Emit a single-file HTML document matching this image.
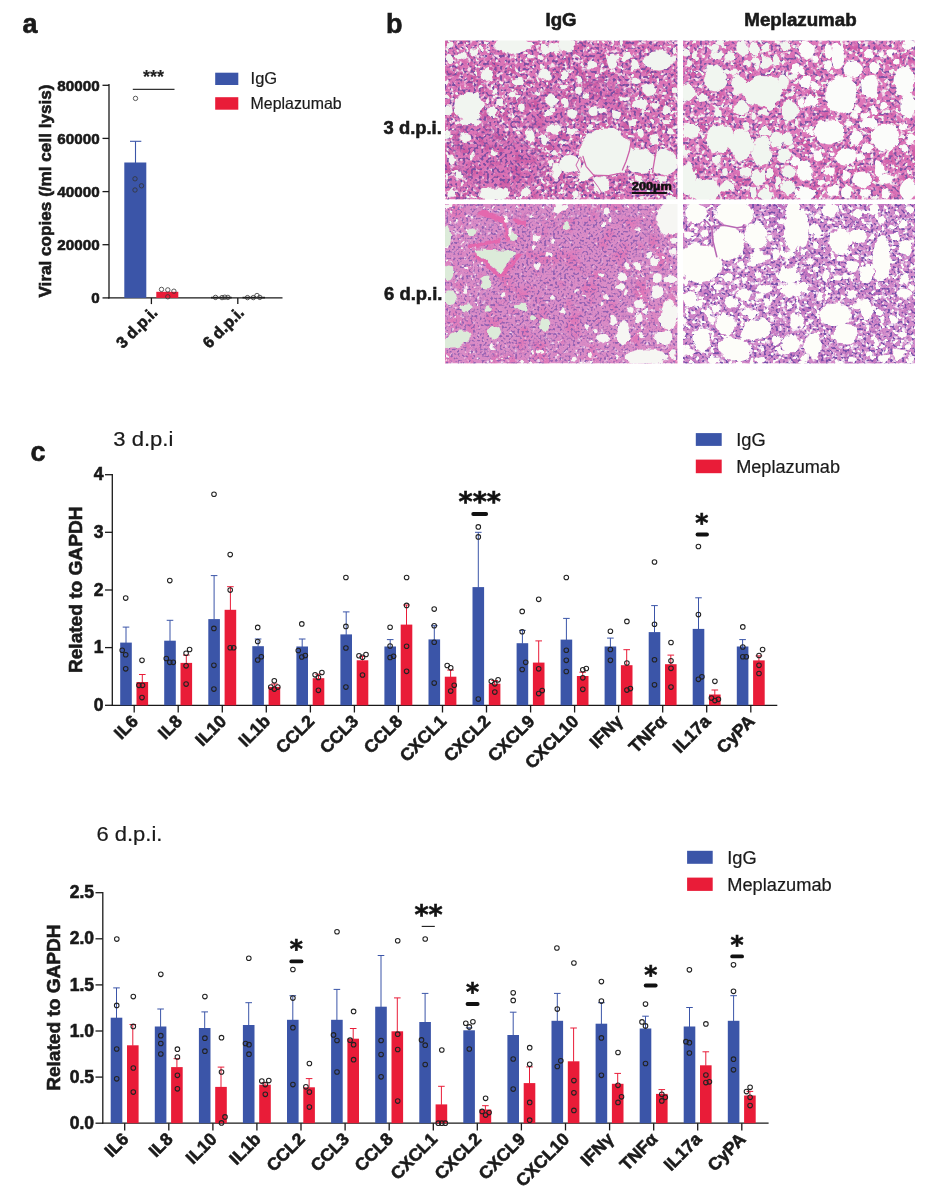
<!DOCTYPE html>
<html><head><meta charset="utf-8"><title>Figure</title>
<style>html,body{margin:0;padding:0;background:#fff}svg{display:block}</style>
</head><body>
<svg width="926" height="1189" viewBox="0 0 926 1189" font-family="'Liberation Sans', sans-serif" fill="#1a1a1a">
<rect width="926" height="1189" fill="#fff"/>
<text x="22.5" y="32.5" font-size="27" font-weight="bold" stroke="#1a1a1a" stroke-width="0.6">a</text>
<text x="386.0" y="32.8" font-size="27" font-weight="bold" stroke="#1a1a1a" stroke-width="0.6">b</text>
<text x="30.6" y="461.0" font-size="27" font-weight="bold" stroke="#1a1a1a" stroke-width="0.6">c</text>
<line x1="109.0" y1="84.0" x2="109.0" y2="298.5" stroke="#1a1a1a" stroke-width="1.3"/>
<line x1="108.4" y1="297.9" x2="282.5" y2="297.9" stroke="#1a1a1a" stroke-width="1.3"/>
<line x1="102.5" y1="297.9" x2="109.0" y2="297.9" stroke="#1a1a1a" stroke-width="1.3"/>
<text x="99.6" y="303.1" font-size="15.2" font-weight="bold" stroke="#1a1a1a" stroke-width="0.6" text-anchor="end">0</text>
<line x1="102.5" y1="244.7" x2="109.0" y2="244.7" stroke="#1a1a1a" stroke-width="1.3"/>
<text x="99.6" y="249.9" font-size="15.2" font-weight="bold" stroke="#1a1a1a" stroke-width="0.6" text-anchor="end">20000</text>
<line x1="102.5" y1="191.6" x2="109.0" y2="191.6" stroke="#1a1a1a" stroke-width="1.3"/>
<text x="99.6" y="196.8" font-size="15.2" font-weight="bold" stroke="#1a1a1a" stroke-width="0.6" text-anchor="end">40000</text>
<line x1="102.5" y1="138.4" x2="109.0" y2="138.4" stroke="#1a1a1a" stroke-width="1.3"/>
<text x="99.6" y="143.6" font-size="15.2" font-weight="bold" stroke="#1a1a1a" stroke-width="0.6" text-anchor="end">60000</text>
<line x1="102.5" y1="85.3" x2="109.0" y2="85.3" stroke="#1a1a1a" stroke-width="1.3"/>
<text x="99.6" y="90.5" font-size="15.2" font-weight="bold" stroke="#1a1a1a" stroke-width="0.6" text-anchor="end">80000</text>
<text x="51.0" y="191.0" font-size="17" font-weight="bold" stroke="#1a1a1a" stroke-width="0.6" text-anchor="middle" transform="rotate(-90 51.0 191.0)" textLength="213.0" lengthAdjust="spacingAndGlyphs">Viral copies (/ml cell lysis)</text>
<line x1="151.4" y1="297.9" x2="151.4" y2="304.1" stroke="#1a1a1a" stroke-width="1.3"/>
<line x1="237.8" y1="297.9" x2="237.8" y2="304.1" stroke="#1a1a1a" stroke-width="1.3"/>
<rect x="124.3" y="162.5" width="22.0" height="135.4" fill="#3b55a8"/>
<line x1="135.5" y1="141.3" x2="135.5" y2="163.0" stroke="#3b55a8" stroke-width="1.1"/>
<line x1="130.0" y1="141.3" x2="141.3" y2="141.3" stroke="#3b55a8" stroke-width="1.1"/>
<rect x="156.3" y="291.8" width="22.0" height="6.1" fill="#e91c38"/>
<line x1="211.0" y1="297.6" x2="231.7" y2="297.6" stroke="#1a1a1a" stroke-width="1.6"/>
<line x1="242.5" y1="297.6" x2="265.0" y2="297.6" stroke="#1a1a1a" stroke-width="1.6"/>
<g fill="none" stroke="#333" stroke-width="0.8">
<circle cx="135.5" cy="98.4" r="2.2"/>
<circle cx="135.0" cy="178.8" r="2.2"/>
<circle cx="141.5" cy="185.8" r="2.2"/>
<circle cx="135.0" cy="190.0" r="2.2"/>
<circle cx="161.5" cy="289.4" r="2.2"/>
<circle cx="167.8" cy="289.9" r="2.2"/>
<circle cx="173.9" cy="291.2" r="2.2"/>
<circle cx="167.8" cy="296.8" r="2.2"/>
<circle cx="215.5" cy="297.4" r="2.2"/>
<circle cx="222.0" cy="297.6" r="2.2"/>
<circle cx="224.8" cy="297.2" r="2.2"/>
<circle cx="227.9" cy="297.4" r="2.2"/>
<circle cx="247.5" cy="297.6" r="2.2"/>
<circle cx="253.3" cy="297.6" r="2.2"/>
<circle cx="257.0" cy="295.5" r="2.2"/>
<circle cx="259.8" cy="297.4" r="2.2"/>
</g>
<line x1="132.8" y1="89.4" x2="174.5" y2="89.4" stroke="#333" stroke-width="1.2"/>
<text x="153.4" y="82.9" font-size="18" font-weight="bold" stroke="#222" stroke-width="0.1" text-anchor="middle" fill="#222">***</text>
<text x="158.5" y="313.5" font-size="16" font-weight="bold" stroke="#1a1a1a" stroke-width="0.6" text-anchor="end" transform="rotate(-45 158.5 313.5)">3 d.p.i.</text>
<text x="245.0" y="313.5" font-size="16" font-weight="bold" stroke="#1a1a1a" stroke-width="0.6" text-anchor="end" transform="rotate(-45 245.0 313.5)">6 d.p.i.</text>
<rect x="215.2" y="72.7" width="23.1" height="12.3" fill="#3b55a8"/>
<rect x="215.2" y="97.2" width="23.1" height="12.5" fill="#e91c38"/>
<text x="250.6" y="84.2" font-size="16.5" stroke="#1a1a1a" stroke-width="0.2">IgG</text>
<text x="250.6" y="108.8" font-size="16.5" textLength="91.0" lengthAdjust="spacingAndGlyphs" stroke="#1a1a1a" stroke-width="0.2">Meplazumab</text>
<text x="545.6" y="25.7" font-size="18.5" font-weight="bold" stroke="#1a1a1a" stroke-width="0.6" textLength="31.0" lengthAdjust="spacingAndGlyphs">IgG</text>
<text x="744.3" y="25.7" font-size="18.5" font-weight="bold" stroke="#1a1a1a" stroke-width="0.6" textLength="112.3" lengthAdjust="spacingAndGlyphs">Meplazumab</text>
<text x="383.6" y="133.7" font-size="19" font-weight="bold" stroke="#1a1a1a" stroke-width="0.6" textLength="58.2" lengthAdjust="spacingAndGlyphs">3 d.p.i.</text>
<text x="384.1" y="299.7" font-size="19" font-weight="bold" stroke="#1a1a1a" stroke-width="0.6" textLength="58.3" lengthAdjust="spacingAndGlyphs">6 d.p.i.</text>
<defs>
<filter id="tis1" x="0" y="0" width="1" height="1" color-interpolation-filters="sRGB">
<feTurbulence type="fractalNoise" baseFrequency="0.09" numOctaves="2" seed="43" result="n3"/>
<feColorMatrix in="n3" type="matrix" values="0 0 0 0 0.800  0 0 0 0 0.353  0 0 0 0 0.635  4 0 0 0 -1.92" result="var"/>
<feTurbulence type="fractalNoise" baseFrequency="0.22" numOctaves="2" seed="63" result="n4"/>
<feColorMatrix in="n4" type="matrix" values="0 0 0 0 0.957  0 0 0 0 0.871  0 0 0 0 0.925  0 0 5 0 -2.70" result="gap"/>
<feTurbulence type="fractalNoise" baseFrequency="0.38" numOctaves="1" seed="23" result="n2"/>
<feColorMatrix in="n2" type="matrix" values="0 0 0 0 0.486  0 0 0 0 0.306  0 0 0 0 0.635  0 7 0 0 -3.64" result="nuc"/>
<feTurbulence type="fractalNoise" baseFrequency="0.2" numOctaves="2" seed="3" result="n1"/>
<feColorMatrix in="n1" type="matrix" values="0 0 0 0 0.945  0 0 0 0 0.961  0 0 0 0 0.941  12 0 0 0 -7.68" result="holes"/>
<feMerge><feMergeNode in="SourceGraphic"/><feMergeNode in="var"/><feMergeNode in="gap"/><feMergeNode in="nuc"/><feMergeNode in="holes"/></feMerge>
</filter>
<filter id="den1" x="-0.1" y="-0.1" width="1.2" height="1.2" color-interpolation-filters="sRGB">
<feTurbulence type="fractalNoise" baseFrequency="0.09" numOctaves="2" seed="44" result="n3"/>
<feColorMatrix in="n3" type="matrix" values="0 0 0 0 0.800  0 0 0 0 0.353  0 0 0 0 0.635  4 0 0 0 -1.92" result="var"/>
<feTurbulence type="fractalNoise" baseFrequency="0.22" numOctaves="2" seed="64" result="n4"/>
<feColorMatrix in="n4" type="matrix" values="0 0 0 0 0.957  0 0 0 0 0.871  0 0 0 0 0.925  0 0 5 0 -3.05" result="gap"/>
<feTurbulence type="fractalNoise" baseFrequency="0.38" numOctaves="1" seed="24" result="n2"/>
<feColorMatrix in="n2" type="matrix" values="0 0 0 0 0.486  0 0 0 0 0.306  0 0 0 0 0.635  0 7 0 0 -3.57" result="nuc"/>
<feGaussianBlur in="SourceGraphic" stdDeviation="3" result="sg"/>
<feMerge result="m"><feMergeNode in="SourceGraphic"/><feMergeNode in="var"/><feMergeNode in="gap"/><feMergeNode in="nuc"/></feMerge>
<feComposite in="m" in2="sg" operator="in"/>
</filter>
<clipPath id="clip1"><rect x="445" y="40.5" width="232.5" height="159"/></clipPath>
<filter id="tis2" x="0" y="0" width="1" height="1" color-interpolation-filters="sRGB">
<feTurbulence type="fractalNoise" baseFrequency="0.09" numOctaves="2" seed="45" result="n3"/>
<feColorMatrix in="n3" type="matrix" values="0 0 0 0 0.816  0 0 0 0 0.361  0 0 0 0 0.651  4 0 0 0 -1.92" result="var"/>
<feTurbulence type="fractalNoise" baseFrequency="0.22" numOctaves="2" seed="65" result="n4"/>
<feColorMatrix in="n4" type="matrix" values="0 0 0 0 0.965  0 0 0 0 0.878  0 0 0 0 0.933  0 0 5 0 -2.70" result="gap"/>
<feTurbulence type="fractalNoise" baseFrequency="0.38" numOctaves="1" seed="25" result="n2"/>
<feColorMatrix in="n2" type="matrix" values="0 0 0 0 0.494  0 0 0 0 0.322  0 0 0 0 0.643  0 7 0 0 -3.68" result="nuc"/>
<feTurbulence type="fractalNoise" baseFrequency="0.2" numOctaves="2" seed="5" result="n1"/>
<feColorMatrix in="n1" type="matrix" values="0 0 0 0 0.945  0 0 0 0 0.965  0 0 0 0 0.941  12 0 0 0 -7.44" result="holes"/>
<feMerge><feMergeNode in="SourceGraphic"/><feMergeNode in="var"/><feMergeNode in="gap"/><feMergeNode in="nuc"/><feMergeNode in="holes"/></feMerge>
</filter>
<filter id="den2" x="-0.1" y="-0.1" width="1.2" height="1.2" color-interpolation-filters="sRGB">
<feTurbulence type="fractalNoise" baseFrequency="0.09" numOctaves="2" seed="46" result="n3"/>
<feColorMatrix in="n3" type="matrix" values="0 0 0 0 0.816  0 0 0 0 0.361  0 0 0 0 0.651  4 0 0 0 -1.92" result="var"/>
<feTurbulence type="fractalNoise" baseFrequency="0.22" numOctaves="2" seed="66" result="n4"/>
<feColorMatrix in="n4" type="matrix" values="0 0 0 0 0.965  0 0 0 0 0.878  0 0 0 0 0.933  0 0 5 0 -3.05" result="gap"/>
<feTurbulence type="fractalNoise" baseFrequency="0.38" numOctaves="1" seed="26" result="n2"/>
<feColorMatrix in="n2" type="matrix" values="0 0 0 0 0.494  0 0 0 0 0.322  0 0 0 0 0.643  0 7 0 0 -3.60" result="nuc"/>
<feGaussianBlur in="SourceGraphic" stdDeviation="3" result="sg"/>
<feMerge result="m"><feMergeNode in="SourceGraphic"/><feMergeNode in="var"/><feMergeNode in="gap"/><feMergeNode in="nuc"/></feMerge>
<feComposite in="m" in2="sg" operator="in"/>
</filter>
<clipPath id="clip2"><rect x="683" y="40.5" width="232" height="159"/></clipPath>
<filter id="tis3" x="0" y="0" width="1" height="1" color-interpolation-filters="sRGB">
<feTurbulence type="fractalNoise" baseFrequency="0.06" numOctaves="2" seed="48" result="n3"/>
<feColorMatrix in="n3" type="matrix" values="0 0 0 0 0.878  0 0 0 0 0.471  0 0 0 0 0.722  4 0 0 0 -2.00" result="var"/>
<feTurbulence type="fractalNoise" baseFrequency="0.22" numOctaves="2" seed="68" result="n4"/>
<feColorMatrix in="n4" type="matrix" values="0 0 0 0 0.941  0 0 0 0 0.831  0 0 0 0 0.925  0 0 5 0 -3.00" result="gap"/>
<feTurbulence type="fractalNoise" baseFrequency="0.45" numOctaves="1" seed="28" result="n2"/>
<feColorMatrix in="n2" type="matrix" values="0 0 0 0 0.573  0 0 0 0 0.376  0 0 0 0 0.698  0 6 0 0 -3.12" result="nuc"/>
<feTurbulence type="fractalNoise" baseFrequency="0.2" numOctaves="2" seed="8" result="n1"/>
<feColorMatrix in="n1" type="matrix" values="0 0 0 0 0.965  0 0 0 0 0.965  0 0 0 0 0.953  12 0 0 0 -8.28" result="holes"/>
<feMerge><feMergeNode in="SourceGraphic"/><feMergeNode in="var"/><feMergeNode in="gap"/><feMergeNode in="nuc"/><feMergeNode in="holes"/></feMerge>
</filter>
<filter id="den3" x="-0.1" y="-0.1" width="1.2" height="1.2" color-interpolation-filters="sRGB">
<feTurbulence type="fractalNoise" baseFrequency="0.06" numOctaves="2" seed="49" result="n3"/>
<feColorMatrix in="n3" type="matrix" values="0 0 0 0 0.878  0 0 0 0 0.471  0 0 0 0 0.722  4 0 0 0 -2.00" result="var"/>
<feTurbulence type="fractalNoise" baseFrequency="0.22" numOctaves="2" seed="69" result="n4"/>
<feColorMatrix in="n4" type="matrix" values="0 0 0 0 0.941  0 0 0 0 0.831  0 0 0 0 0.925  0 0 5 0 -3.35" result="gap"/>
<feTurbulence type="fractalNoise" baseFrequency="0.45" numOctaves="1" seed="29" result="n2"/>
<feColorMatrix in="n2" type="matrix" values="0 0 0 0 0.573  0 0 0 0 0.376  0 0 0 0 0.698  0 6 0 0 -3.06" result="nuc"/>
<feGaussianBlur in="SourceGraphic" stdDeviation="3" result="sg"/>
<feMerge result="m"><feMergeNode in="SourceGraphic"/><feMergeNode in="var"/><feMergeNode in="gap"/><feMergeNode in="nuc"/></feMerge>
<feComposite in="m" in2="sg" operator="in"/>
</filter>
<clipPath id="clip3"><rect x="445" y="204" width="232.5" height="159.5"/></clipPath>
<filter id="tis4" x="0" y="0" width="1" height="1" color-interpolation-filters="sRGB">
<feTurbulence type="fractalNoise" baseFrequency="0.07" numOctaves="2" seed="51" result="n3"/>
<feColorMatrix in="n3" type="matrix" values="0 0 0 0 0.769  0 0 0 0 0.463  0 0 0 0 0.753  4 0 0 0 -2.00" result="var"/>
<feTurbulence type="fractalNoise" baseFrequency="0.22" numOctaves="2" seed="71" result="n4"/>
<feColorMatrix in="n4" type="matrix" values="0 0 0 0 0.957  0 0 0 0 0.894  0 0 0 0 0.957  0 0 5 0 -2.65" result="gap"/>
<feTurbulence type="fractalNoise" baseFrequency="0.42" numOctaves="1" seed="31" result="n2"/>
<feColorMatrix in="n2" type="matrix" values="0 0 0 0 0.471  0 0 0 0 0.314  0 0 0 0 0.667  0 7 0 0 -3.64" result="nuc"/>
<feTurbulence type="fractalNoise" baseFrequency="0.2" numOctaves="2" seed="11" result="n1"/>
<feColorMatrix in="n1" type="matrix" values="0 0 0 0 0.992  0 0 0 0 0.992  0 0 0 0 0.976  12 0 0 0 -7.20" result="holes"/>
<feMerge><feMergeNode in="SourceGraphic"/><feMergeNode in="var"/><feMergeNode in="gap"/><feMergeNode in="nuc"/><feMergeNode in="holes"/></feMerge>
</filter>
<filter id="den4" x="-0.1" y="-0.1" width="1.2" height="1.2" color-interpolation-filters="sRGB">
<feTurbulence type="fractalNoise" baseFrequency="0.07" numOctaves="2" seed="52" result="n3"/>
<feColorMatrix in="n3" type="matrix" values="0 0 0 0 0.769  0 0 0 0 0.463  0 0 0 0 0.753  4 0 0 0 -2.00" result="var"/>
<feTurbulence type="fractalNoise" baseFrequency="0.22" numOctaves="2" seed="72" result="n4"/>
<feColorMatrix in="n4" type="matrix" values="0 0 0 0 0.957  0 0 0 0 0.894  0 0 0 0 0.957  0 0 5 0 -3.00" result="gap"/>
<feTurbulence type="fractalNoise" baseFrequency="0.42" numOctaves="1" seed="32" result="n2"/>
<feColorMatrix in="n2" type="matrix" values="0 0 0 0 0.471  0 0 0 0 0.314  0 0 0 0 0.667  0 7 0 0 -3.57" result="nuc"/>
<feGaussianBlur in="SourceGraphic" stdDeviation="3" result="sg"/>
<feMerge result="m"><feMergeNode in="SourceGraphic"/><feMergeNode in="var"/><feMergeNode in="gap"/><feMergeNode in="nuc"/></feMerge>
<feComposite in="m" in2="sg" operator="in"/>
</filter>
<clipPath id="clip4"><rect x="683" y="204" width="232" height="159.5"/></clipPath>
<filter id="rough" x="-5%" y="-5%" width="110%" height="110%">
<feTurbulence type="fractalNoise" baseFrequency="0.12" numOctaves="2" seed="4" result="t"/>
<feDisplacementMap in="SourceGraphic" in2="t" scale="7" xChannelSelector="R" yChannelSelector="G"/>
</filter>
<filter id="soft" x="0" y="0" width="1" height="1"><feGaussianBlur stdDeviation="0.45"/></filter>
</defs>
<g clip-path="url(#clip1)"><g filter="url(#soft)">
<rect x="445" y="40.5" width="232.5" height="159" fill="#dc74b6" filter="url(#tis1)"/>
<ellipse cx="504.0" cy="166.0" rx="40.0" ry="26.0" fill="#dc74b6" filter="url(#den1)"/>
<ellipse cx="476.0" cy="150.0" rx="22.0" ry="30.0" fill="#dc74b6" filter="url(#den1)"/>
<ellipse cx="545.0" cy="110.0" rx="25.0" ry="20.0" fill="#dc74b6" filter="url(#den1)"/>
<ellipse cx="600.0" cy="100.0" rx="30.0" ry="18.0" fill="#dc74b6" filter="url(#den1)"/>
<g filter="url(#rough)">
<g fill="#f1f5f0">
<ellipse cx="512.6" cy="45.0" rx="19.5" ry="7.8"/>
<ellipse cx="487.0" cy="75.7" rx="6.3" ry="6.3"/>
<ellipse cx="448.8" cy="58.8" rx="3.9" ry="3.9"/>
<ellipse cx="461.3" cy="56.3" rx="5.9" ry="3.9"/>
<ellipse cx="451.3" cy="45.0" rx="3.3" ry="3.3"/>
<ellipse cx="473.8" cy="52.5" rx="3.3" ry="3.3"/>
<ellipse cx="481.3" cy="49.4" rx="2.6" ry="2.6"/>
<ellipse cx="468.8" cy="106.4" rx="14.3" ry="14.3"/>
<ellipse cx="448.8" cy="110.2" rx="3.9" ry="3.9"/>
<ellipse cx="518.9" cy="82.6" rx="5.2" ry="4.6"/>
<ellipse cx="544.0" cy="73.8" rx="6.5" ry="5.9"/>
<ellipse cx="545.2" cy="50.0" rx="4.6" ry="4.6"/>
<ellipse cx="554.0" cy="47.5" rx="5.9" ry="5.2"/>
<ellipse cx="540.2" cy="57.5" rx="2.6" ry="2.6"/>
<ellipse cx="551.5" cy="100.1" rx="7.2" ry="5.9"/>
<ellipse cx="547.7" cy="112.7" rx="3.3" ry="3.3"/>
<ellipse cx="552.7" cy="108.9" rx="2.6" ry="2.6"/>
<ellipse cx="500.1" cy="101.4" rx="2.9" ry="2.9"/>
<ellipse cx="495.1" cy="91.4" rx="2.3" ry="2.3"/>
<ellipse cx="513.3" cy="93.9" rx="3.3" ry="3.3"/>
<ellipse cx="521.4" cy="107.6" rx="3.3" ry="3.3"/>
<ellipse cx="492.6" cy="111.4" rx="5.9" ry="4.6"/>
<ellipse cx="537.7" cy="93.2" rx="2.6" ry="2.6"/>
<ellipse cx="531.4" cy="56.3" rx="2.3" ry="2.3"/>
<ellipse cx="567.3" cy="45.0" rx="7.8" ry="6.5"/>
<ellipse cx="612.4" cy="61.3" rx="5.2" ry="7.8"/>
<ellipse cx="626.1" cy="56.3" rx="5.2" ry="4.6"/>
<ellipse cx="658.7" cy="60.0" rx="14.3" ry="9.8"/>
<ellipse cx="592.3" cy="65.1" rx="3.9" ry="3.3"/>
<ellipse cx="636.2" cy="81.3" rx="4.6" ry="3.9"/>
<ellipse cx="648.7" cy="90.1" rx="6.5" ry="5.9"/>
<ellipse cx="639.9" cy="103.9" rx="7.2" ry="5.2"/>
<ellipse cx="655.0" cy="104.5" rx="3.9" ry="3.3"/>
<ellipse cx="666.9" cy="110.2" rx="5.2" ry="3.9"/>
<ellipse cx="674.4" cy="50.0" rx="2.6" ry="3.3"/>
<ellipse cx="674.4" cy="58.8" rx="2.6" ry="3.3"/>
<ellipse cx="634.9" cy="64.4" rx="4.6" ry="5.2"/>
<ellipse cx="564.8" cy="75.1" rx="3.9" ry="3.9"/>
<ellipse cx="564.1" cy="87.6" rx="3.3" ry="2.6"/>
<ellipse cx="578.5" cy="90.1" rx="3.3" ry="3.3"/>
<ellipse cx="584.8" cy="95.1" rx="3.3" ry="2.6"/>
<ellipse cx="564.8" cy="102.6" rx="3.9" ry="5.2"/>
<ellipse cx="572.3" cy="113.9" rx="5.2" ry="3.9"/>
<ellipse cx="593.6" cy="111.4" rx="5.2" ry="4.6"/>
<ellipse cx="602.3" cy="110.2" rx="3.3" ry="3.3"/>
<ellipse cx="616.1" cy="113.9" rx="3.9" ry="3.9"/>
<ellipse cx="623.6" cy="98.9" rx="5.2" ry="2.6"/>
<ellipse cx="579.8" cy="80.1" rx="2.6" ry="2.6"/>
<ellipse cx="675.0" cy="90.1" rx="2.1" ry="3.9"/>
<ellipse cx="665.0" cy="93.9" rx="2.6" ry="2.0"/>
<ellipse cx="470.1" cy="121.9" rx="10.4" ry="3.3"/>
<ellipse cx="465.7" cy="137.5" rx="4.6" ry="4.6"/>
<ellipse cx="447.5" cy="133.8" rx="2.6" ry="5.2"/>
<ellipse cx="452.5" cy="160.1" rx="3.9" ry="4.6"/>
<ellipse cx="530.2" cy="136.3" rx="4.6" ry="5.9"/>
<ellipse cx="554.0" cy="128.8" rx="5.9" ry="5.2"/>
<ellipse cx="545.2" cy="140.0" rx="3.9" ry="4.6"/>
<ellipse cx="555.2" cy="153.8" rx="3.3" ry="2.6"/>
<ellipse cx="556.5" cy="171.4" rx="5.2" ry="7.8"/>
<ellipse cx="493.9" cy="193.9" rx="15.6" ry="6.5"/>
<ellipse cx="525.2" cy="192.7" rx="4.6" ry="4.6"/>
<ellipse cx="458.8" cy="175.1" rx="3.3" ry="2.6"/>
<ellipse cx="451.3" cy="193.9" rx="3.9" ry="3.9"/>
<ellipse cx="550.2" cy="163.8" rx="2.6" ry="2.6"/>
<ellipse cx="493.2" cy="151.9" rx="2.6" ry="2.6"/>
<ellipse cx="471.9" cy="156.3" rx="2.0" ry="5.2"/>
<ellipse cx="606.1" cy="152.6" rx="26.1" ry="24.1"/>
<ellipse cx="586.1" cy="172.6" rx="9.1" ry="7.8"/>
<ellipse cx="641.2" cy="161.3" rx="14.3" ry="11.7"/>
<ellipse cx="665.0" cy="162.6" rx="11.7" ry="13.0"/>
<ellipse cx="569.8" cy="163.8" rx="10.4" ry="9.1"/>
<ellipse cx="601.1" cy="185.1" rx="9.1" ry="7.8"/>
<ellipse cx="654.3" cy="138.8" rx="5.0" ry="4.6"/>
<ellipse cx="641.2" cy="133.2" rx="3.6" ry="3.6"/>
<ellipse cx="634.9" cy="131.3" rx="2.0" ry="2.0"/>
<ellipse cx="649.9" cy="130.0" rx="2.0" ry="2.0"/>
<ellipse cx="671.2" cy="131.3" rx="3.3" ry="3.3"/>
<ellipse cx="666.2" cy="121.9" rx="3.9" ry="2.0"/>
<ellipse cx="632.4" cy="122.5" rx="3.9" ry="2.6"/>
<ellipse cx="637.4" cy="148.2" rx="2.0" ry="2.0"/>
<ellipse cx="572.3" cy="130.6" rx="4.6" ry="2.6"/>
<ellipse cx="563.5" cy="143.2" rx="2.6" ry="2.6"/>
<ellipse cx="589.8" cy="126.3" rx="3.9" ry="2.0"/>
<ellipse cx="574.8" cy="195.2" rx="3.9" ry="3.9"/>
<ellipse cx="638.7" cy="180.1" rx="4.6" ry="3.3"/>
<ellipse cx="671.2" cy="197.7" rx="5.2" ry="2.6"/>
<ellipse cx="661.2" cy="178.9" rx="5.2" ry="2.6"/>
</g></g>
<polyline points="631.2,141.3 629.3,151.3 626.1,161.3 622.4,170.1" fill="none" stroke="#cc62aa" stroke-width="1.3" stroke-linecap="round" stroke-linejoin="round"/>
<polyline points="656.2,150.1 654.3,161.3 652.4,172.6" fill="none" stroke="#cc62aa" stroke-width="1.3" stroke-linecap="round" stroke-linejoin="round"/>
<polyline points="582.9,156.3 586.1,166.3 593.6,175.1 608.6,175.7 621.1,173.2" fill="none" stroke="#cc62aa" stroke-width="1.2" stroke-linecap="round" stroke-linejoin="round"/>
<polyline points="579.8,157.6 576.0,165.1 579.8,172.6" fill="none" stroke="#cc62aa" stroke-width="1.0" stroke-linecap="round" stroke-linejoin="round"/>
<polyline points="592.3,178.9 598.6,187.6 602.3,193.9" fill="none" stroke="#cc62aa" stroke-width="1.0" stroke-linecap="round" stroke-linejoin="round"/>
</g></g>
<g clip-path="url(#clip2)"><g filter="url(#soft)">
<rect x="683" y="40.5" width="232" height="159" fill="#de78ba" filter="url(#tis2)"/>
<g filter="url(#rough)">
<g fill="#f1f6f0">
<ellipse cx="714.9" cy="78.8" rx="11.9" ry="12.6"/>
<ellipse cx="738.7" cy="85.1" rx="7.7" ry="9.8"/>
<ellipse cx="763.2" cy="91.4" rx="19.6" ry="15.4"/>
<ellipse cx="783.2" cy="81.3" rx="5.6" ry="7.0"/>
<ellipse cx="741.9" cy="107.6" rx="7.7" ry="7.7"/>
<ellipse cx="789.5" cy="110.2" rx="8.4" ry="9.8"/>
<ellipse cx="686.8" cy="92.6" rx="7.7" ry="8.4"/>
<ellipse cx="742.5" cy="48.8" rx="6.3" ry="7.0"/>
<ellipse cx="754.4" cy="49.4" rx="5.6" ry="7.0"/>
<ellipse cx="766.3" cy="63.2" rx="5.6" ry="6.3"/>
<ellipse cx="776.3" cy="60.0" rx="4.2" ry="4.9"/>
<ellipse cx="755.7" cy="61.9" rx="4.2" ry="4.2"/>
<ellipse cx="747.5" cy="63.8" rx="3.5" ry="3.5"/>
<ellipse cx="729.3" cy="57.5" rx="4.9" ry="4.2"/>
<ellipse cx="716.8" cy="55.7" rx="5.6" ry="4.2"/>
<ellipse cx="694.3" cy="54.4" rx="3.5" ry="3.5"/>
<ellipse cx="685.5" cy="52.5" rx="3.1" ry="3.9"/>
<ellipse cx="715.6" cy="47.5" rx="3.5" ry="3.5"/>
<ellipse cx="720.0" cy="42.5" rx="3.5" ry="2.8"/>
<ellipse cx="734.4" cy="71.9" rx="3.5" ry="3.5"/>
<ellipse cx="765.7" cy="47.5" rx="3.5" ry="4.2"/>
<ellipse cx="785.7" cy="46.3" rx="4.2" ry="5.6"/>
<ellipse cx="795.7" cy="69.4" rx="4.2" ry="6.3" fill="#fbfcfa"/>
<ellipse cx="709.9" cy="66.9" rx="3.5" ry="2.1"/>
<ellipse cx="770.7" cy="105.1" rx="4.2" ry="4.9"/>
<ellipse cx="703.0" cy="97.6" rx="4.9" ry="4.2"/>
<ellipse cx="689.3" cy="63.8" rx="2.8" ry="2.1"/>
<ellipse cx="763.2" cy="112.7" rx="5.6" ry="3.5"/>
<ellipse cx="718.1" cy="112.7" rx="3.5" ry="4.9"/>
<ellipse cx="753.2" cy="115.2" rx="2.8" ry="2.8"/>
<ellipse cx="793.2" cy="77.6" rx="4.2" ry="3.5"/>
<ellipse cx="790.7" cy="93.9" rx="2.5" ry="2.5"/>
<ellipse cx="806.5" cy="50.0" rx="8.4" ry="8.4" fill="#fbfcfa"/>
<ellipse cx="837.8" cy="56.3" rx="7.0" ry="12.6" fill="#fbfcfa"/>
<ellipse cx="841.6" cy="95.1" rx="15.4" ry="19.6" fill="#fbfcfa"/>
<ellipse cx="854.1" cy="68.8" rx="9.8" ry="8.4" fill="#fbfcfa"/>
<ellipse cx="870.4" cy="86.3" rx="9.1" ry="11.2" fill="#fbfcfa"/>
<ellipse cx="904.2" cy="81.3" rx="9.8" ry="15.4" fill="#fbfcfa"/>
<ellipse cx="908.0" cy="106.4" rx="7.7" ry="12.6" fill="#fbfcfa"/>
<ellipse cx="827.8" cy="65.1" rx="4.2" ry="4.9" fill="#fbfcfa"/>
<ellipse cx="846.6" cy="78.8" rx="3.9" ry="3.9" fill="#fbfcfa"/>
<ellipse cx="814.7" cy="58.8" rx="3.5" ry="3.5" fill="#fbfcfa"/>
<ellipse cx="805.3" cy="81.3" rx="6.3" ry="5.6" fill="#fbfcfa"/>
<ellipse cx="802.1" cy="70.1" rx="3.5" ry="4.9" fill="#fbfcfa"/>
<ellipse cx="814.0" cy="86.3" rx="3.5" ry="4.2" fill="#fbfcfa"/>
<ellipse cx="811.5" cy="101.4" rx="7.0" ry="6.3" fill="#fbfcfa"/>
<ellipse cx="801.5" cy="102.6" rx="2.8" ry="4.2" fill="#fbfcfa"/>
<ellipse cx="891.1" cy="53.2" rx="3.9" ry="3.9" fill="#fbfcfa"/>
<ellipse cx="881.1" cy="55.0" rx="2.8" ry="2.8" fill="#fbfcfa"/>
<ellipse cx="869.2" cy="53.8" rx="4.9" ry="4.9" fill="#fbfcfa"/>
<ellipse cx="874.2" cy="67.6" rx="4.9" ry="4.9" fill="#fbfcfa"/>
<ellipse cx="909.2" cy="45.0" rx="6.3" ry="4.9" fill="#fbfcfa"/>
<ellipse cx="828.4" cy="51.3" rx="3.5" ry="7.0" fill="#fbfcfa"/>
<ellipse cx="884.2" cy="106.4" rx="4.2" ry="3.5" fill="#fbfcfa"/>
<ellipse cx="874.2" cy="110.2" rx="4.2" ry="4.2" fill="#fbfcfa"/>
<ellipse cx="865.4" cy="115.2" rx="4.2" ry="4.2" fill="#fbfcfa"/>
<ellipse cx="857.9" cy="110.2" rx="2.8" ry="4.2" fill="#fbfcfa"/>
<ellipse cx="896.7" cy="61.3" rx="2.8" ry="3.5" fill="#fbfcfa"/>
<ellipse cx="854.1" cy="115.2" rx="3.5" ry="3.5" fill="#fbfcfa"/>
<ellipse cx="720.6" cy="138.8" rx="14.0" ry="14.0"/>
<ellipse cx="741.9" cy="145.1" rx="11.2" ry="15.4"/>
<ellipse cx="761.9" cy="151.3" rx="9.8" ry="14.0"/>
<ellipse cx="776.3" cy="138.8" rx="7.7" ry="7.0"/>
<ellipse cx="788.2" cy="138.8" rx="5.6" ry="5.6"/>
<ellipse cx="783.2" cy="155.1" rx="7.0" ry="7.0"/>
<ellipse cx="765.1" cy="131.3" rx="5.6" ry="5.6"/>
<ellipse cx="690.5" cy="130.0" rx="8.4" ry="7.0"/>
<ellipse cx="688.0" cy="178.9" rx="8.4" ry="15.4"/>
<ellipse cx="704.3" cy="190.2" rx="16.8" ry="11.2"/>
<ellipse cx="726.2" cy="186.4" rx="7.0" ry="5.6"/>
<ellipse cx="725.0" cy="172.0" rx="3.9" ry="3.9"/>
<ellipse cx="716.8" cy="160.1" rx="4.9" ry="5.6"/>
<ellipse cx="745.6" cy="172.6" rx="6.3" ry="4.2"/>
<ellipse cx="758.2" cy="177.6" rx="7.0" ry="7.7"/>
<ellipse cx="769.4" cy="172.6" rx="3.5" ry="4.9"/>
<ellipse cx="789.5" cy="172.6" rx="7.0" ry="6.3"/>
<ellipse cx="795.7" cy="161.3" rx="4.2" ry="4.2" fill="#fbfcfa"/>
<ellipse cx="788.2" cy="187.6" rx="6.3" ry="7.0"/>
<ellipse cx="765.7" cy="195.2" rx="7.0" ry="5.6"/>
<ellipse cx="753.2" cy="192.7" rx="3.5" ry="5.6"/>
<ellipse cx="684.3" cy="151.3" rx="2.1" ry="5.6"/>
<ellipse cx="796.4" cy="193.9" rx="3.5" ry="5.6" fill="#fbfcfa"/>
<ellipse cx="778.2" cy="182.6" rx="2.1" ry="5.6"/>
<ellipse cx="745.6" cy="126.3" rx="3.5" ry="4.2"/>
<ellipse cx="829.1" cy="131.9" rx="15.4" ry="12.6" fill="#fbfcfa"/>
<ellipse cx="885.4" cy="137.5" rx="14.0" ry="14.0" fill="#fbfcfa"/>
<ellipse cx="869.2" cy="123.8" rx="9.8" ry="4.9" fill="#fbfcfa"/>
<ellipse cx="856.0" cy="137.5" rx="5.6" ry="8.4" fill="#fbfcfa"/>
<ellipse cx="867.3" cy="147.6" rx="5.6" ry="5.6" fill="#fbfcfa"/>
<ellipse cx="845.3" cy="156.3" rx="9.8" ry="8.4" fill="#fbfcfa"/>
<ellipse cx="859.8" cy="157.0" rx="4.2" ry="3.5" fill="#fbfcfa"/>
<ellipse cx="817.8" cy="155.7" rx="5.6" ry="4.9" fill="#fbfcfa"/>
<ellipse cx="812.8" cy="150.1" rx="2.8" ry="2.8" fill="#fbfcfa"/>
<ellipse cx="830.3" cy="153.2" rx="2.8" ry="2.8" fill="#fbfcfa"/>
<ellipse cx="804.0" cy="170.1" rx="7.0" ry="11.2" fill="#fbfcfa"/>
<ellipse cx="829.1" cy="171.4" rx="5.6" ry="4.9" fill="#fbfcfa"/>
<ellipse cx="846.6" cy="175.1" rx="4.2" ry="5.6" fill="#fbfcfa"/>
<ellipse cx="861.6" cy="178.9" rx="8.4" ry="8.4" fill="#fbfcfa"/>
<ellipse cx="879.2" cy="168.9" rx="4.2" ry="8.4" fill="#fbfcfa"/>
<ellipse cx="886.7" cy="178.9" rx="7.0" ry="5.6" fill="#fbfcfa"/>
<ellipse cx="908.0" cy="190.2" rx="8.4" ry="11.2" fill="#fbfcfa"/>
<ellipse cx="910.5" cy="138.8" rx="4.9" ry="6.3" fill="#fbfcfa"/>
<ellipse cx="905.5" cy="148.8" rx="2.8" ry="3.5" fill="#fbfcfa"/>
<ellipse cx="806.5" cy="193.9" rx="8.4" ry="7.0" fill="#fbfcfa"/>
<ellipse cx="832.8" cy="191.4" rx="4.9" ry="6.3" fill="#fbfcfa"/>
<ellipse cx="846.6" cy="192.7" rx="5.6" ry="7.0" fill="#fbfcfa"/>
<ellipse cx="865.4" cy="193.9" rx="4.9" ry="5.6" fill="#fbfcfa"/>
<ellipse cx="885.4" cy="193.9" rx="4.9" ry="4.9" fill="#fbfcfa"/>
<ellipse cx="821.5" cy="182.6" rx="3.5" ry="3.5" fill="#fbfcfa"/>
<ellipse cx="810.3" cy="131.3" rx="3.5" ry="2.8" fill="#fbfcfa"/>
<ellipse cx="849.1" cy="123.8" rx="4.2" ry="2.8" fill="#fbfcfa"/>
<ellipse cx="903.0" cy="126.3" rx="4.2" ry="2.8" fill="#fbfcfa"/>
</g></g>
</g></g>
<g clip-path="url(#clip3)"><g filter="url(#soft)">
<rect x="445" y="204" width="232.5" height="159.5" fill="#da8cc6" filter="url(#tis3)"/>
<ellipse cx="560.0" cy="290.0" rx="75.0" ry="50.0" fill="#da8cc6" filter="url(#den3)"/>
<ellipse cx="600.0" cy="240.0" rx="50.0" ry="30.0" fill="#da8cc6" filter="url(#den3)"/>
<ellipse cx="500.0" cy="330.0" rx="40.0" ry="25.0" fill="#da8cc6" filter="url(#den3)"/>
<ellipse cx="520.0" cy="240.0" rx="40.0" ry="25.0" fill="#da8cc6" filter="url(#den3)"/>
<g filter="url(#rough)">
<line x1="480.1" y1="212.8" x2="503.9" y2="220.3" stroke="#e468ae" stroke-width="4.8" stroke-linecap="round"/>
<line x1="503.9" y1="220.3" x2="507.6" y2="239.1" stroke="#e468ae" stroke-width="3.3" stroke-linecap="round"/>
<line x1="470.1" y1="246.6" x2="498.9" y2="240.3" stroke="#e468ae" stroke-width="3.8" stroke-linecap="round"/>
<line x1="476.3" y1="255.4" x2="500.1" y2="276.7" stroke="#e468ae" stroke-width="3.3" stroke-linecap="round"/>
<line x1="500.1" y1="276.7" x2="520.2" y2="254.1" stroke="#e468ae" stroke-width="3.3" stroke-linecap="round"/>
<line x1="512.6" y1="220.3" x2="525.2" y2="224.0" stroke="#e468ae" stroke-width="3.8" stroke-linecap="round"/>
<polygon points="476.3,251.0 514.5,252.2 500.1,271.6" fill="#dcebd9" stroke="#dcebd9" stroke-width="3" stroke-linejoin="round"/>
<g fill="#f6f6f3">
<ellipse cx="447.5" cy="236.6" rx="3.5" ry="11.3" fill="#dcebd9"/>
<ellipse cx="448.8" cy="272.9" rx="5.6" ry="7.5" fill="#dcebd9"/>
<ellipse cx="471.9" cy="232.2" rx="4.4" ry="3.8" fill="#dcebd9"/>
<ellipse cx="512.6" cy="237.2" rx="3.8" ry="3.8" fill="#dcebd9"/>
<ellipse cx="535.2" cy="237.8" rx="3.5" ry="3.5"/>
<ellipse cx="534.6" cy="247.8" rx="2.5" ry="2.5"/>
<ellipse cx="552.7" cy="242.2" rx="2.5" ry="2.5"/>
<ellipse cx="549.0" cy="254.1" rx="2.5" ry="2.5"/>
<ellipse cx="537.1" cy="265.4" rx="2.5" ry="2.5"/>
<ellipse cx="532.1" cy="216.5" rx="1.5" ry="1.5"/>
<ellipse cx="558.4" cy="209.0" rx="3.8" ry="4.4"/>
<ellipse cx="486.3" cy="280.4" rx="5.0" ry="3.8" fill="#dcebd9"/>
<ellipse cx="448.1" cy="205.3" rx="3.8" ry="1.9"/>
<ellipse cx="505.8" cy="219.0" rx="1.9" ry="3.8"/>
<ellipse cx="510.1" cy="231.6" rx="1.5" ry="3.8"/>
<ellipse cx="670.0" cy="217.8" rx="13.8" ry="17.5"/>
<ellipse cx="563.5" cy="207.8" rx="3.8" ry="3.8"/>
<ellipse cx="606.1" cy="210.9" rx="3.5" ry="3.5"/>
<ellipse cx="566.0" cy="226.5" rx="3.1" ry="3.5" fill="#dcebd9"/>
<ellipse cx="603.0" cy="222.8" rx="2.3" ry="2.5"/>
<ellipse cx="610.5" cy="220.3" rx="1.9" ry="2.3"/>
<ellipse cx="648.1" cy="255.4" rx="3.8" ry="3.1"/>
<ellipse cx="655.0" cy="261.6" rx="3.8" ry="3.5"/>
<ellipse cx="673.7" cy="251.6" rx="3.8" ry="3.8"/>
<ellipse cx="637.4" cy="266.6" rx="3.5" ry="3.5"/>
<ellipse cx="626.8" cy="265.4" rx="2.5" ry="2.3"/>
<ellipse cx="621.8" cy="276.7" rx="4.4" ry="4.4"/>
<ellipse cx="601.1" cy="274.8" rx="3.1" ry="2.5"/>
<ellipse cx="656.8" cy="277.9" rx="5.0" ry="5.0"/>
<ellipse cx="670.0" cy="279.2" rx="6.3" ry="3.8"/>
<ellipse cx="674.4" cy="240.3" rx="2.5" ry="2.5"/>
<ellipse cx="638.7" cy="229.1" rx="2.5" ry="1.9"/>
<ellipse cx="449.4" cy="297.8" rx="6.3" ry="7.5" fill="#dcebd9"/>
<ellipse cx="466.3" cy="307.8" rx="6.3" ry="4.4" fill="#dcebd9"/>
<ellipse cx="457.5" cy="339.1" rx="13.8" ry="7.5" transform="rotate(-20 457.5 339.1)" fill="#dcebd9"/>
<ellipse cx="494.5" cy="332.9" rx="6.5" ry="6.5" fill="#dcebd9"/>
<ellipse cx="487.6" cy="308.4" rx="3.1" ry="3.1" fill="#dcebd9"/>
<ellipse cx="486.3" cy="285.3" rx="5.6" ry="3.1" fill="#dcebd9"/>
<ellipse cx="521.4" cy="307.2" rx="7.5" ry="3.1" transform="rotate(15 521.4 307.2)" fill="#dcebd9"/>
<ellipse cx="545.2" cy="324.1" rx="5.0" ry="6.3" fill="#dcebd9"/>
<ellipse cx="532.1" cy="318.4" rx="3.1" ry="3.1" fill="#dcebd9"/>
<ellipse cx="553.4" cy="297.2" rx="2.5" ry="2.5"/>
<ellipse cx="503.9" cy="295.3" rx="2.5" ry="3.1"/>
<ellipse cx="492.6" cy="347.9" rx="2.3" ry="3.1"/>
<ellipse cx="537.7" cy="351.6" rx="2.8" ry="2.3"/>
<ellipse cx="465.0" cy="290.9" rx="3.1" ry="1.9"/>
<ellipse cx="623.6" cy="332.9" rx="6.3" ry="12.5"/>
<ellipse cx="639.3" cy="304.0" rx="5.0" ry="5.0"/>
<ellipse cx="657.5" cy="291.5" rx="5.0" ry="6.3"/>
<ellipse cx="619.9" cy="287.1" rx="5.0" ry="3.1"/>
<ellipse cx="668.7" cy="315.3" rx="8.8" ry="15.0"/>
<ellipse cx="663.7" cy="337.9" rx="8.8" ry="7.5"/>
<ellipse cx="646.2" cy="356.7" rx="21.3" ry="7.5"/>
<ellipse cx="638.7" cy="318.4" rx="3.8" ry="3.8"/>
<ellipse cx="645.6" cy="311.6" rx="2.8" ry="2.8"/>
<ellipse cx="630.5" cy="309.7" rx="3.1" ry="2.8"/>
<ellipse cx="641.2" cy="334.7" rx="3.1" ry="2.5"/>
<ellipse cx="613.0" cy="320.3" rx="3.5" ry="4.4"/>
<ellipse cx="603.6" cy="338.5" rx="6.3" ry="4.4"/>
<ellipse cx="589.8" cy="354.8" rx="3.1" ry="3.1"/>
<ellipse cx="587.9" cy="326.6" rx="2.5" ry="3.1"/>
<ellipse cx="594.2" cy="332.2" rx="2.3" ry="2.3"/>
<ellipse cx="606.1" cy="297.2" rx="3.1" ry="3.1"/>
<ellipse cx="563.5" cy="309.7" rx="2.3" ry="2.5"/>
<ellipse cx="574.2" cy="359.2" rx="2.5" ry="2.5"/>
<ellipse cx="583.5" cy="295.9" rx="1.5" ry="1.5"/>
<ellipse cx="576.0" cy="290.9" rx="1.9" ry="1.9"/>
<ellipse cx="673.7" cy="354.2" rx="3.1" ry="5.0"/>
<ellipse cx="626.1" cy="292.8" rx="1.9" ry="2.5"/>
<ellipse cx="601.1" cy="304.0" rx="1.5" ry="2.5"/>
</g></g>
</g></g>
<g clip-path="url(#clip4)"><g filter="url(#soft)">
<rect x="683" y="204" width="232" height="159.5" fill="#d48cca" filter="url(#tis4)"/>
<g filter="url(#rough)">
<g fill="#fdfdf9">
<ellipse cx="695.5" cy="212.8" rx="10.4" ry="10.4"/>
<ellipse cx="734.4" cy="214.6" rx="19.5" ry="13.0"/>
<ellipse cx="728.1" cy="242.8" rx="16.3" ry="16.9"/>
<ellipse cx="755.7" cy="235.3" rx="11.7" ry="13.0" transform="rotate(-30 755.7 235.3)"/>
<ellipse cx="699.3" cy="262.9" rx="22.1" ry="19.5"/>
<ellipse cx="793.2" cy="226.5" rx="9.1" ry="26.1"/>
<ellipse cx="789.5" cy="275.4" rx="10.4" ry="7.8"/>
<ellipse cx="688.6" cy="235.3" rx="4.6" ry="3.9"/>
<ellipse cx="704.3" cy="233.4" rx="3.9" ry="3.3"/>
<ellipse cx="695.5" cy="230.9" rx="2.3" ry="2.6"/>
<ellipse cx="709.9" cy="224.0" rx="3.9" ry="2.6"/>
<ellipse cx="759.4" cy="257.9" rx="9.1" ry="6.5"/>
<ellipse cx="741.9" cy="265.4" rx="3.9" ry="3.3"/>
<ellipse cx="752.5" cy="262.9" rx="4.6" ry="3.9"/>
<ellipse cx="728.1" cy="277.9" rx="4.6" ry="4.6"/>
<ellipse cx="758.2" cy="274.8" rx="3.3" ry="3.3"/>
<ellipse cx="770.7" cy="238.4" rx="2.6" ry="3.3"/>
<ellipse cx="784.5" cy="221.5" rx="3.3" ry="3.3"/>
<ellipse cx="756.9" cy="250.3" rx="3.9" ry="3.3"/>
<ellipse cx="775.7" cy="254.1" rx="5.2" ry="5.2"/>
<ellipse cx="788.2" cy="254.1" rx="6.5" ry="3.9"/>
<ellipse cx="685.5" cy="280.4" rx="2.6" ry="2.6"/>
<ellipse cx="743.1" cy="279.2" rx="3.3" ry="2.6"/>
<ellipse cx="802.8" cy="229.1" rx="5.9" ry="19.5"/>
<ellipse cx="815.3" cy="230.3" rx="6.5" ry="5.2"/>
<ellipse cx="840.3" cy="241.6" rx="11.1" ry="12.4"/>
<ellipse cx="830.3" cy="210.3" rx="7.8" ry="7.8"/>
<ellipse cx="857.9" cy="236.6" rx="9.1" ry="6.5"/>
<ellipse cx="881.7" cy="259.1" rx="9.1" ry="22.1"/>
<ellipse cx="905.5" cy="247.8" rx="7.8" ry="7.8"/>
<ellipse cx="882.3" cy="219.7" rx="4.6" ry="3.9"/>
<ellipse cx="874.2" cy="209.0" rx="5.2" ry="5.2"/>
<ellipse cx="859.1" cy="214.0" rx="5.2" ry="5.2"/>
<ellipse cx="903.0" cy="225.3" rx="4.6" ry="3.9"/>
<ellipse cx="895.5" cy="236.6" rx="5.2" ry="3.9"/>
<ellipse cx="817.8" cy="216.5" rx="3.3" ry="3.3"/>
<ellipse cx="852.9" cy="265.4" rx="6.5" ry="5.2"/>
<ellipse cx="840.3" cy="259.1" rx="3.9" ry="3.3"/>
<ellipse cx="825.9" cy="275.4" rx="3.9" ry="6.5"/>
<ellipse cx="866.6" cy="274.2" rx="6.5" ry="9.1"/>
<ellipse cx="815.3" cy="245.3" rx="3.3" ry="3.9"/>
<ellipse cx="809.6" cy="261.6" rx="3.9" ry="3.3"/>
<ellipse cx="804.0" cy="252.9" rx="3.3" ry="3.3"/>
<ellipse cx="815.3" cy="269.1" rx="2.6" ry="2.6"/>
<ellipse cx="846.6" cy="276.7" rx="3.3" ry="2.6"/>
<ellipse cx="905.5" cy="277.9" rx="3.9" ry="5.2"/>
<ellipse cx="837.8" cy="277.9" rx="3.9" ry="2.6"/>
<ellipse cx="909.2" cy="209.0" rx="3.9" ry="3.3"/>
<ellipse cx="689.3" cy="299.0" rx="7.2" ry="7.8"/>
<ellipse cx="725.6" cy="324.1" rx="10.4" ry="10.4"/>
<ellipse cx="756.9" cy="329.1" rx="15.6" ry="10.4" transform="rotate(-15 756.9 329.1)"/>
<ellipse cx="734.4" cy="349.1" rx="16.9" ry="11.7" transform="rotate(15 734.4 349.1)"/>
<ellipse cx="701.8" cy="339.1" rx="9.1" ry="11.7"/>
<ellipse cx="790.7" cy="344.1" rx="9.1" ry="9.1"/>
<ellipse cx="794.5" cy="321.6" rx="5.2" ry="9.1"/>
<ellipse cx="790.7" cy="290.3" rx="9.1" ry="7.8"/>
<ellipse cx="764.4" cy="289.0" rx="7.8" ry="5.2"/>
<ellipse cx="744.4" cy="294.0" rx="6.5" ry="6.5"/>
<ellipse cx="731.2" cy="302.2" rx="6.5" ry="5.2"/>
<ellipse cx="750.6" cy="312.8" rx="7.8" ry="4.6"/>
<ellipse cx="766.9" cy="302.2" rx="4.6" ry="3.9"/>
<ellipse cx="759.4" cy="296.5" rx="3.9" ry="3.3"/>
<ellipse cx="718.1" cy="286.5" rx="3.9" ry="3.3"/>
<ellipse cx="696.8" cy="288.4" rx="3.3" ry="3.3"/>
<ellipse cx="698.7" cy="304.0" rx="3.9" ry="3.6"/>
<ellipse cx="716.2" cy="308.4" rx="3.3" ry="4.6"/>
<ellipse cx="708.1" cy="312.2" rx="3.3" ry="5.2"/>
<ellipse cx="711.8" cy="319.1" rx="3.9" ry="3.3"/>
<ellipse cx="776.3" cy="340.4" rx="4.6" ry="4.6"/>
<ellipse cx="688.0" cy="352.3" rx="5.9" ry="3.9"/>
<ellipse cx="713.1" cy="360.4" rx="5.2" ry="3.3"/>
<ellipse cx="684.3" cy="320.3" rx="2.6" ry="3.9"/>
<ellipse cx="684.3" cy="334.1" rx="2.0" ry="3.3"/>
<ellipse cx="779.5" cy="315.3" rx="2.6" ry="2.6"/>
<ellipse cx="789.5" cy="304.7" rx="2.6" ry="2.6"/>
<ellipse cx="797.6" cy="304.7" rx="2.0" ry="3.3"/>
<ellipse cx="779.5" cy="351.6" rx="2.6" ry="3.9"/>
<ellipse cx="760.7" cy="360.4" rx="5.2" ry="3.3"/>
<ellipse cx="835.3" cy="315.3" rx="15.6" ry="11.7"/>
<ellipse cx="845.3" cy="334.1" rx="11.7" ry="10.4"/>
<ellipse cx="812.8" cy="345.4" rx="9.1" ry="13.0"/>
<ellipse cx="866.6" cy="309.1" rx="6.5" ry="10.4"/>
<ellipse cx="802.8" cy="287.8" rx="5.2" ry="5.2"/>
<ellipse cx="800.9" cy="321.6" rx="2.6" ry="7.8"/>
<ellipse cx="820.3" cy="296.5" rx="3.9" ry="5.2"/>
<ellipse cx="852.9" cy="293.4" rx="5.2" ry="3.3"/>
<ellipse cx="857.9" cy="304.0" rx="3.9" ry="5.2"/>
<ellipse cx="893.0" cy="319.1" rx="5.2" ry="4.6"/>
<ellipse cx="879.2" cy="312.8" rx="3.3" ry="3.3"/>
<ellipse cx="903.0" cy="294.0" rx="7.8" ry="4.6"/>
<ellipse cx="912.4" cy="287.1" rx="3.3" ry="3.3"/>
<ellipse cx="903.0" cy="334.1" rx="3.9" ry="3.3"/>
<ellipse cx="876.7" cy="342.9" rx="3.3" ry="3.9"/>
<ellipse cx="908.0" cy="346.6" rx="3.3" ry="3.3"/>
<ellipse cx="898.0" cy="354.2" rx="5.2" ry="5.2"/>
<ellipse cx="884.2" cy="357.9" rx="5.2" ry="3.9"/>
<ellipse cx="869.2" cy="354.2" rx="3.3" ry="2.6"/>
<ellipse cx="851.6" cy="359.2" rx="3.9" ry="2.6"/>
<ellipse cx="804.0" cy="357.9" rx="3.9" ry="3.3"/>
<ellipse cx="829.1" cy="290.3" rx="2.6" ry="2.0"/>
<ellipse cx="872.9" cy="291.5" rx="2.6" ry="2.0"/>
<ellipse cx="911.7" cy="359.2" rx="3.3" ry="3.9"/>
</g></g>
<polyline points="712.4,226.5 724.3,225.3 736.9,227.8 745.6,226.5" fill="none" stroke="#b868b4" stroke-width="1.6" stroke-linecap="round" stroke-linejoin="round"/>
<polyline points="706.8,221.5 711.8,227.8 713.1,241.6 716.8,256.6" fill="none" stroke="#b868b4" stroke-width="1.6" stroke-linecap="round" stroke-linejoin="round"/>
<polyline points="744.4,245.3 748.1,251.6 743.1,259.1" fill="none" stroke="#b868b4" stroke-width="1.6" stroke-linecap="round" stroke-linejoin="round"/>
</g></g>
<text x="631.8" y="190.1" font-size="11" font-weight="bold" stroke="#111" stroke-width="0.6" textLength="40.0" lengthAdjust="spacingAndGlyphs" fill="#111">200µm</text>
<line x1="631.8" y1="193.0" x2="666.9" y2="193.0" stroke="#111" stroke-width="2.0"/>
<text x="113.3" y="446.0" font-size="20" textLength="60.0" lengthAdjust="spacingAndGlyphs" stroke="#1a1a1a" stroke-width="0.2">3 d.p.i</text>
<line x1="112.3" y1="474.1" x2="112.3" y2="705.9" stroke="#1a1a1a" stroke-width="1.3"/>
<line x1="111.7" y1="705.3" x2="777.3" y2="705.3" stroke="#1a1a1a" stroke-width="1.3"/>
<line x1="105.0" y1="705.3" x2="112.3" y2="705.3" stroke="#1a1a1a" stroke-width="1.3"/>
<text x="103.5" y="710.9" font-size="17.5" font-weight="bold" stroke="#1a1a1a" stroke-width="0.6" text-anchor="end">0</text>
<line x1="105.0" y1="647.6" x2="112.3" y2="647.6" stroke="#1a1a1a" stroke-width="1.3"/>
<text x="103.5" y="653.2" font-size="17.5" font-weight="bold" stroke="#1a1a1a" stroke-width="0.6" text-anchor="end">1</text>
<line x1="105.0" y1="590.0" x2="112.3" y2="590.0" stroke="#1a1a1a" stroke-width="1.3"/>
<text x="103.5" y="595.6" font-size="17.5" font-weight="bold" stroke="#1a1a1a" stroke-width="0.6" text-anchor="end">2</text>
<line x1="105.0" y1="532.3" x2="112.3" y2="532.3" stroke="#1a1a1a" stroke-width="1.3"/>
<text x="103.5" y="537.9" font-size="17.5" font-weight="bold" stroke="#1a1a1a" stroke-width="0.6" text-anchor="end">3</text>
<line x1="105.0" y1="474.7" x2="112.3" y2="474.7" stroke="#1a1a1a" stroke-width="1.3"/>
<text x="103.5" y="480.3" font-size="17.5" font-weight="bold" stroke="#1a1a1a" stroke-width="0.6" text-anchor="end">4</text>
<text x="82.2" y="589.8" font-size="19" font-weight="bold" stroke="#1a1a1a" stroke-width="0.6" text-anchor="middle" transform="rotate(-90 82.2 589.8)" textLength="166.5" lengthAdjust="spacingAndGlyphs">Related to GAPDH</text>
<line x1="134.2" y1="705.3" x2="134.2" y2="712.5" stroke="#1a1a1a" stroke-width="1.3"/>
<rect x="120.2" y="642.6" width="11.6" height="62.7" fill="#3b55a8"/>
<line x1="126.0" y1="627.1" x2="126.0" y2="643.1" stroke="#3b55a8" stroke-width="1.0"/>
<line x1="122.7" y1="627.1" x2="129.3" y2="627.1" stroke="#3b55a8" stroke-width="1.0"/>
<rect x="136.5" y="682.0" width="11.6" height="23.3" fill="#e91c38"/>
<line x1="142.3" y1="674.5" x2="142.3" y2="682.5" stroke="#e91c38" stroke-width="1.0"/>
<line x1="139.0" y1="674.5" x2="145.6" y2="674.5" stroke="#e91c38" stroke-width="1.0"/>
<text x="139.2" y="722.3" font-size="17.5" font-weight="bold" stroke="#1a1a1a" stroke-width="0.6" text-anchor="end" transform="rotate(-45 139.2 722.3)">IL6</text>
<line x1="178.2" y1="705.3" x2="178.2" y2="712.5" stroke="#1a1a1a" stroke-width="1.3"/>
<rect x="164.2" y="640.7" width="11.6" height="64.6" fill="#3b55a8"/>
<line x1="170.0" y1="620.3" x2="170.0" y2="641.2" stroke="#3b55a8" stroke-width="1.0"/>
<line x1="166.7" y1="620.3" x2="173.3" y2="620.3" stroke="#3b55a8" stroke-width="1.0"/>
<rect x="180.5" y="662.9" width="11.6" height="42.4" fill="#e91c38"/>
<line x1="186.3" y1="655.1" x2="186.3" y2="663.4" stroke="#e91c38" stroke-width="1.0"/>
<line x1="183.0" y1="655.1" x2="189.6" y2="655.1" stroke="#e91c38" stroke-width="1.0"/>
<text x="183.2" y="722.3" font-size="17.5" font-weight="bold" stroke="#1a1a1a" stroke-width="0.6" text-anchor="end" transform="rotate(-45 183.2 722.3)">IL8</text>
<line x1="222.3" y1="705.3" x2="222.3" y2="712.5" stroke="#1a1a1a" stroke-width="1.3"/>
<rect x="208.3" y="619.1" width="11.6" height="86.2" fill="#3b55a8"/>
<line x1="214.1" y1="575.6" x2="214.1" y2="619.6" stroke="#3b55a8" stroke-width="1.0"/>
<line x1="210.8" y1="575.6" x2="217.4" y2="575.6" stroke="#3b55a8" stroke-width="1.0"/>
<rect x="224.6" y="609.8" width="11.6" height="95.5" fill="#e91c38"/>
<line x1="230.4" y1="586.7" x2="230.4" y2="610.3" stroke="#e91c38" stroke-width="1.0"/>
<line x1="227.1" y1="586.7" x2="233.7" y2="586.7" stroke="#e91c38" stroke-width="1.0"/>
<text x="227.3" y="722.3" font-size="17.5" font-weight="bold" stroke="#1a1a1a" stroke-width="0.6" text-anchor="end" transform="rotate(-45 227.3 722.3)">IL10</text>
<line x1="266.3" y1="705.3" x2="266.3" y2="712.5" stroke="#1a1a1a" stroke-width="1.3"/>
<rect x="252.3" y="646.2" width="11.6" height="59.1" fill="#3b55a8"/>
<line x1="258.1" y1="639.0" x2="258.1" y2="646.7" stroke="#3b55a8" stroke-width="1.0"/>
<line x1="254.8" y1="639.0" x2="261.4" y2="639.0" stroke="#3b55a8" stroke-width="1.0"/>
<rect x="268.6" y="686.9" width="11.6" height="18.4" fill="#e91c38"/>
<line x1="274.4" y1="684.0" x2="274.4" y2="687.4" stroke="#e91c38" stroke-width="1.0"/>
<line x1="271.1" y1="684.0" x2="277.7" y2="684.0" stroke="#e91c38" stroke-width="1.0"/>
<text x="271.3" y="722.3" font-size="17.5" font-weight="bold" stroke="#1a1a1a" stroke-width="0.6" text-anchor="end" transform="rotate(-45 271.3 722.3)">IL1b</text>
<line x1="310.4" y1="705.3" x2="310.4" y2="712.5" stroke="#1a1a1a" stroke-width="1.3"/>
<rect x="296.4" y="646.5" width="11.6" height="58.8" fill="#3b55a8"/>
<line x1="302.2" y1="639.0" x2="302.2" y2="647.0" stroke="#3b55a8" stroke-width="1.0"/>
<line x1="298.9" y1="639.0" x2="305.5" y2="639.0" stroke="#3b55a8" stroke-width="1.0"/>
<rect x="312.7" y="678.2" width="11.6" height="27.1" fill="#e91c38"/>
<line x1="318.5" y1="674.2" x2="318.5" y2="678.7" stroke="#e91c38" stroke-width="1.0"/>
<line x1="315.2" y1="674.2" x2="321.8" y2="674.2" stroke="#e91c38" stroke-width="1.0"/>
<text x="315.4" y="722.3" font-size="17.5" font-weight="bold" stroke="#1a1a1a" stroke-width="0.6" text-anchor="end" transform="rotate(-45 315.4 722.3)">CCL2</text>
<line x1="354.4" y1="705.3" x2="354.4" y2="712.5" stroke="#1a1a1a" stroke-width="1.3"/>
<rect x="340.4" y="634.4" width="11.6" height="70.9" fill="#3b55a8"/>
<line x1="346.2" y1="611.9" x2="346.2" y2="634.9" stroke="#3b55a8" stroke-width="1.0"/>
<line x1="342.9" y1="611.9" x2="349.5" y2="611.9" stroke="#3b55a8" stroke-width="1.0"/>
<rect x="356.7" y="660.3" width="11.6" height="45.0" fill="#e91c38"/>
<line x1="362.5" y1="656.3" x2="362.5" y2="660.8" stroke="#e91c38" stroke-width="1.0"/>
<line x1="359.2" y1="656.3" x2="365.8" y2="656.3" stroke="#e91c38" stroke-width="1.0"/>
<text x="359.4" y="722.3" font-size="17.5" font-weight="bold" stroke="#1a1a1a" stroke-width="0.6" text-anchor="end" transform="rotate(-45 359.4 722.3)">CCL3</text>
<line x1="398.4" y1="705.3" x2="398.4" y2="712.5" stroke="#1a1a1a" stroke-width="1.3"/>
<rect x="384.4" y="646.5" width="11.6" height="58.8" fill="#3b55a8"/>
<line x1="390.2" y1="639.6" x2="390.2" y2="647.0" stroke="#3b55a8" stroke-width="1.0"/>
<line x1="386.9" y1="639.6" x2="393.5" y2="639.6" stroke="#3b55a8" stroke-width="1.0"/>
<rect x="400.7" y="624.6" width="11.6" height="80.7" fill="#e91c38"/>
<line x1="406.5" y1="605.0" x2="406.5" y2="625.1" stroke="#e91c38" stroke-width="1.0"/>
<line x1="403.2" y1="605.0" x2="409.8" y2="605.0" stroke="#e91c38" stroke-width="1.0"/>
<text x="403.4" y="722.3" font-size="17.5" font-weight="bold" stroke="#1a1a1a" stroke-width="0.6" text-anchor="end" transform="rotate(-45 403.4 722.3)">CCL8</text>
<line x1="442.5" y1="705.3" x2="442.5" y2="712.5" stroke="#1a1a1a" stroke-width="1.3"/>
<rect x="428.5" y="639.4" width="11.6" height="65.9" fill="#3b55a8"/>
<line x1="434.3" y1="625.7" x2="434.3" y2="639.9" stroke="#3b55a8" stroke-width="1.0"/>
<line x1="431.0" y1="625.7" x2="437.6" y2="625.7" stroke="#3b55a8" stroke-width="1.0"/>
<rect x="444.8" y="676.7" width="11.6" height="28.6" fill="#e91c38"/>
<line x1="450.6" y1="670.1" x2="450.6" y2="677.2" stroke="#e91c38" stroke-width="1.0"/>
<line x1="447.3" y1="670.1" x2="453.9" y2="670.1" stroke="#e91c38" stroke-width="1.0"/>
<text x="447.5" y="722.3" font-size="17.5" font-weight="bold" stroke="#1a1a1a" stroke-width="0.6" text-anchor="end" transform="rotate(-45 447.5 722.3)">CXCL1</text>
<line x1="486.5" y1="705.3" x2="486.5" y2="712.5" stroke="#1a1a1a" stroke-width="1.3"/>
<rect x="472.5" y="587.1" width="11.6" height="118.2" fill="#3b55a8"/>
<line x1="478.3" y1="532.3" x2="478.3" y2="587.6" stroke="#3b55a8" stroke-width="1.0"/>
<line x1="475.0" y1="532.3" x2="481.6" y2="532.3" stroke="#3b55a8" stroke-width="1.0"/>
<rect x="488.8" y="683.7" width="11.6" height="21.6" fill="#e91c38"/>
<line x1="494.6" y1="680.5" x2="494.6" y2="684.2" stroke="#e91c38" stroke-width="1.0"/>
<line x1="491.3" y1="680.5" x2="497.9" y2="680.5" stroke="#e91c38" stroke-width="1.0"/>
<text x="491.5" y="722.3" font-size="17.5" font-weight="bold" stroke="#1a1a1a" stroke-width="0.6" text-anchor="end" transform="rotate(-45 491.5 722.3)">CXCL2</text>
<line x1="530.6" y1="705.3" x2="530.6" y2="712.5" stroke="#1a1a1a" stroke-width="1.3"/>
<rect x="516.6" y="643.2" width="11.6" height="62.1" fill="#3b55a8"/>
<line x1="522.4" y1="630.4" x2="522.4" y2="643.7" stroke="#3b55a8" stroke-width="1.0"/>
<line x1="519.1" y1="630.4" x2="525.7" y2="630.4" stroke="#3b55a8" stroke-width="1.0"/>
<rect x="532.9" y="662.6" width="11.6" height="42.7" fill="#e91c38"/>
<line x1="538.7" y1="640.9" x2="538.7" y2="663.1" stroke="#e91c38" stroke-width="1.0"/>
<line x1="535.4" y1="640.9" x2="542.0" y2="640.9" stroke="#e91c38" stroke-width="1.0"/>
<text x="535.6" y="722.3" font-size="17.5" font-weight="bold" stroke="#1a1a1a" stroke-width="0.6" text-anchor="end" transform="rotate(-45 535.6 722.3)">CXCL9</text>
<line x1="574.6" y1="705.3" x2="574.6" y2="712.5" stroke="#1a1a1a" stroke-width="1.3"/>
<rect x="560.6" y="639.6" width="11.6" height="65.7" fill="#3b55a8"/>
<line x1="566.4" y1="618.4" x2="566.4" y2="640.1" stroke="#3b55a8" stroke-width="1.0"/>
<line x1="563.1" y1="618.4" x2="569.7" y2="618.4" stroke="#3b55a8" stroke-width="1.0"/>
<rect x="576.9" y="676.0" width="11.6" height="29.3" fill="#e91c38"/>
<line x1="582.7" y1="672.2" x2="582.7" y2="676.5" stroke="#e91c38" stroke-width="1.0"/>
<line x1="579.4" y1="672.2" x2="586.0" y2="672.2" stroke="#e91c38" stroke-width="1.0"/>
<text x="579.6" y="722.3" font-size="17.5" font-weight="bold" stroke="#1a1a1a" stroke-width="0.6" text-anchor="end" transform="rotate(-45 579.6 722.3)">CXCL10</text>
<line x1="618.6" y1="705.3" x2="618.6" y2="712.5" stroke="#1a1a1a" stroke-width="1.3"/>
<rect x="604.6" y="646.5" width="11.6" height="58.8" fill="#3b55a8"/>
<line x1="610.4" y1="638.1" x2="610.4" y2="647.0" stroke="#3b55a8" stroke-width="1.0"/>
<line x1="607.1" y1="638.1" x2="613.7" y2="638.1" stroke="#3b55a8" stroke-width="1.0"/>
<rect x="620.9" y="665.2" width="11.6" height="40.1" fill="#e91c38"/>
<line x1="626.7" y1="649.7" x2="626.7" y2="665.7" stroke="#e91c38" stroke-width="1.0"/>
<line x1="623.4" y1="649.7" x2="630.0" y2="649.7" stroke="#e91c38" stroke-width="1.0"/>
<text x="623.6" y="722.3" font-size="17.5" font-weight="bold" stroke="#1a1a1a" stroke-width="0.6" text-anchor="end" transform="rotate(-45 623.6 722.3)">IFNγ</text>
<line x1="662.7" y1="705.3" x2="662.7" y2="712.5" stroke="#1a1a1a" stroke-width="1.3"/>
<rect x="648.7" y="632.1" width="11.6" height="73.2" fill="#3b55a8"/>
<line x1="654.5" y1="605.6" x2="654.5" y2="632.6" stroke="#3b55a8" stroke-width="1.0"/>
<line x1="651.2" y1="605.6" x2="657.8" y2="605.6" stroke="#3b55a8" stroke-width="1.0"/>
<rect x="665.0" y="664.2" width="11.6" height="41.1" fill="#e91c38"/>
<line x1="670.8" y1="655.1" x2="670.8" y2="664.7" stroke="#e91c38" stroke-width="1.0"/>
<line x1="667.5" y1="655.1" x2="674.1" y2="655.1" stroke="#e91c38" stroke-width="1.0"/>
<text x="667.7" y="722.3" font-size="17.5" font-weight="bold" stroke="#1a1a1a" stroke-width="0.6" text-anchor="end" transform="rotate(-45 667.7 722.3)">TNFα</text>
<line x1="706.7" y1="705.3" x2="706.7" y2="712.5" stroke="#1a1a1a" stroke-width="1.3"/>
<rect x="692.7" y="628.9" width="11.6" height="76.4" fill="#3b55a8"/>
<line x1="698.5" y1="597.8" x2="698.5" y2="629.4" stroke="#3b55a8" stroke-width="1.0"/>
<line x1="695.2" y1="597.8" x2="701.8" y2="597.8" stroke="#3b55a8" stroke-width="1.0"/>
<rect x="709.0" y="694.5" width="11.6" height="10.8" fill="#e91c38"/>
<line x1="714.8" y1="690.0" x2="714.8" y2="695.0" stroke="#e91c38" stroke-width="1.0"/>
<line x1="711.5" y1="690.0" x2="718.1" y2="690.0" stroke="#e91c38" stroke-width="1.0"/>
<text x="711.7" y="722.3" font-size="17.5" font-weight="bold" stroke="#1a1a1a" stroke-width="0.6" text-anchor="end" transform="rotate(-45 711.7 722.3)">IL17a</text>
<line x1="750.8" y1="705.3" x2="750.8" y2="712.5" stroke="#1a1a1a" stroke-width="1.3"/>
<rect x="736.8" y="646.5" width="11.6" height="58.8" fill="#3b55a8"/>
<line x1="742.6" y1="639.6" x2="742.6" y2="647.0" stroke="#3b55a8" stroke-width="1.0"/>
<line x1="739.3" y1="639.6" x2="745.9" y2="639.6" stroke="#3b55a8" stroke-width="1.0"/>
<rect x="753.1" y="660.4" width="11.6" height="44.9" fill="#e91c38"/>
<line x1="758.9" y1="655.9" x2="758.9" y2="660.9" stroke="#e91c38" stroke-width="1.0"/>
<line x1="755.6" y1="655.9" x2="762.2" y2="655.9" stroke="#e91c38" stroke-width="1.0"/>
<text x="755.8" y="722.3" font-size="17.5" font-weight="bold" stroke="#1a1a1a" stroke-width="0.6" text-anchor="end" transform="rotate(-45 755.8 722.3)">CyPA</text>
<g fill="none" stroke="#222" stroke-width="1.05">
<circle cx="125.7" cy="598.1" r="2.3"/>
<circle cx="122.2" cy="650.2" r="2.3"/>
<circle cx="125.7" cy="654.7" r="2.3"/>
<circle cx="125.7" cy="668.8" r="2.3"/>
<circle cx="142.0" cy="660.3" r="2.3"/>
<circle cx="138.9" cy="685.3" r="2.3"/>
<circle cx="142.5" cy="685.3" r="2.3"/>
<circle cx="142.0" cy="697.6" r="2.3"/>
<circle cx="169.8" cy="580.6" r="2.3"/>
<circle cx="166.3" cy="658.5" r="2.3"/>
<circle cx="169.8" cy="662.3" r="2.3"/>
<circle cx="173.3" cy="662.3" r="2.3"/>
<circle cx="186.1" cy="653.2" r="2.3"/>
<circle cx="189.6" cy="649.5" r="2.3"/>
<circle cx="186.1" cy="665.8" r="2.3"/>
<circle cx="186.1" cy="684.1" r="2.3"/>
<circle cx="213.9" cy="628.4" r="2.3"/>
<circle cx="213.9" cy="665.3" r="2.3"/>
<circle cx="213.9" cy="689.1" r="2.3"/>
<circle cx="230.2" cy="590.1" r="2.3"/>
<circle cx="230.2" cy="647.7" r="2.3"/>
<circle cx="233.7" cy="647.7" r="2.3"/>
<circle cx="257.7" cy="627.4" r="2.3"/>
<circle cx="257.7" cy="641.5" r="2.3"/>
<circle cx="257.7" cy="660.0" r="2.3"/>
<circle cx="261.3" cy="656.7" r="2.3"/>
<circle cx="274.3" cy="680.8" r="2.3"/>
<circle cx="270.8" cy="687.1" r="2.3"/>
<circle cx="274.3" cy="689.1" r="2.3"/>
<circle cx="277.8" cy="687.1" r="2.3"/>
<circle cx="214.0" cy="494.2" r="2.3"/>
<circle cx="230.2" cy="554.6" r="2.3"/>
<circle cx="301.8" cy="623.9" r="2.3"/>
<circle cx="298.3" cy="650.5" r="2.3"/>
<circle cx="301.8" cy="657.0" r="2.3"/>
<circle cx="305.3" cy="655.5" r="2.3"/>
<circle cx="315.1" cy="674.8" r="2.3"/>
<circle cx="321.9" cy="672.5" r="2.3"/>
<circle cx="318.4" cy="677.5" r="2.3"/>
<circle cx="318.4" cy="690.3" r="2.3"/>
<circle cx="345.9" cy="577.5" r="2.3"/>
<circle cx="345.9" cy="626.4" r="2.3"/>
<circle cx="345.9" cy="648.0" r="2.3"/>
<circle cx="345.9" cy="687.1" r="2.3"/>
<circle cx="359.0" cy="655.7" r="2.3"/>
<circle cx="362.5" cy="657.2" r="2.3"/>
<circle cx="366.0" cy="654.5" r="2.3"/>
<circle cx="362.5" cy="675.0" r="2.3"/>
<circle cx="390.1" cy="627.2" r="2.3"/>
<circle cx="390.1" cy="646.0" r="2.3"/>
<circle cx="390.1" cy="657.5" r="2.3"/>
<circle cx="393.6" cy="656.2" r="2.3"/>
<circle cx="406.6" cy="577.5" r="2.3"/>
<circle cx="406.6" cy="605.4" r="2.3"/>
<circle cx="406.6" cy="646.2" r="2.3"/>
<circle cx="406.6" cy="671.3" r="2.3"/>
<circle cx="434.2" cy="609.1" r="2.3"/>
<circle cx="434.2" cy="625.7" r="2.3"/>
<circle cx="434.2" cy="642.2" r="2.3"/>
<circle cx="434.2" cy="683.1" r="2.3"/>
<circle cx="447.2" cy="665.5" r="2.3"/>
<circle cx="450.7" cy="667.8" r="2.3"/>
<circle cx="454.2" cy="685.3" r="2.3"/>
<circle cx="450.7" cy="691.1" r="2.3"/>
<circle cx="478.3" cy="699.1" r="2.3"/>
<circle cx="491.3" cy="681.3" r="2.3"/>
<circle cx="498.1" cy="679.8" r="2.3"/>
<circle cx="494.8" cy="683.8" r="2.3"/>
<circle cx="494.8" cy="692.1" r="2.3"/>
<circle cx="478.3" cy="526.9" r="2.3"/>
<circle cx="478.3" cy="536.9" r="2.3"/>
<circle cx="522.2" cy="611.4" r="2.3"/>
<circle cx="522.2" cy="631.7" r="2.3"/>
<circle cx="525.7" cy="662.3" r="2.3"/>
<circle cx="522.2" cy="669.5" r="2.3"/>
<circle cx="538.7" cy="599.3" r="2.3"/>
<circle cx="538.7" cy="668.8" r="2.3"/>
<circle cx="542.2" cy="690.6" r="2.3"/>
<circle cx="538.7" cy="693.6" r="2.3"/>
<circle cx="566.3" cy="577.5" r="2.3"/>
<circle cx="566.3" cy="650.2" r="2.3"/>
<circle cx="566.3" cy="660.3" r="2.3"/>
<circle cx="566.3" cy="671.5" r="2.3"/>
<circle cx="582.8" cy="669.8" r="2.3"/>
<circle cx="586.3" cy="668.5" r="2.3"/>
<circle cx="582.8" cy="677.8" r="2.3"/>
<circle cx="582.8" cy="689.3" r="2.3"/>
<circle cx="610.4" cy="631.2" r="2.3"/>
<circle cx="610.4" cy="649.5" r="2.3"/>
<circle cx="610.4" cy="660.3" r="2.3"/>
<circle cx="626.9" cy="621.4" r="2.3"/>
<circle cx="626.9" cy="663.0" r="2.3"/>
<circle cx="626.9" cy="690.1" r="2.3"/>
<circle cx="630.4" cy="688.6" r="2.3"/>
<circle cx="654.5" cy="562.0" r="2.3"/>
<circle cx="654.5" cy="624.2" r="2.3"/>
<circle cx="654.5" cy="659.7" r="2.3"/>
<circle cx="654.5" cy="684.8" r="2.3"/>
<circle cx="671.0" cy="642.5" r="2.3"/>
<circle cx="671.0" cy="660.8" r="2.3"/>
<circle cx="671.0" cy="668.3" r="2.3"/>
<circle cx="671.0" cy="687.1" r="2.3"/>
<circle cx="698.4" cy="614.6" r="2.3"/>
<circle cx="701.9" cy="676.8" r="2.3"/>
<circle cx="698.4" cy="679.3" r="2.3"/>
<circle cx="714.9" cy="681.3" r="2.3"/>
<circle cx="711.4" cy="698.1" r="2.3"/>
<circle cx="714.9" cy="700.6" r="2.3"/>
<circle cx="718.4" cy="699.3" r="2.3"/>
<circle cx="742.8" cy="626.9" r="2.3"/>
<circle cx="742.8" cy="647.0" r="2.3"/>
<circle cx="742.8" cy="656.7" r="2.3"/>
<circle cx="746.3" cy="656.7" r="2.3"/>
<circle cx="762.6" cy="649.5" r="2.3"/>
<circle cx="759.0" cy="655.5" r="2.3"/>
<circle cx="759.0" cy="665.3" r="2.3"/>
<circle cx="759.0" cy="673.5" r="2.3"/>
<circle cx="698.4" cy="546.5" r="2.3"/>
</g>
<rect x="695.8" y="433.1" width="25.9" height="12.8" fill="#3b55a8"/>
<rect x="695.8" y="459.6" width="25.9" height="13.6" fill="#e91c38"/>
<text x="736.2" y="445.9" font-size="18.3" stroke="#1a1a1a" stroke-width="0.2">IgG</text>
<text x="736.2" y="472.7" font-size="18.3" textLength="103.8" lengthAdjust="spacingAndGlyphs" stroke="#1a1a1a" stroke-width="0.2">Meplazumab</text>
<text x="479.7" y="511.0" font-size="27" font-weight="bold" stroke="#111" stroke-width="0.6" text-anchor="middle" font-family="'DejaVu Sans', sans-serif" fill="#111">***</text>
<line x1="473.2" y1="514.0" x2="486.2" y2="514.0" stroke="#111" stroke-width="3.8" stroke-linecap="round"/>
<text x="701.9" y="531.0" font-size="25" font-weight="bold" stroke="#111" stroke-width="0.6" text-anchor="middle" font-family="'DejaVu Sans', sans-serif" fill="#111">*</text>
<line x1="697.5" y1="534.5" x2="707.0" y2="534.5" stroke="#111" stroke-width="3.8" stroke-linecap="round"/>
<text x="96.5" y="841.4" font-size="20" textLength="65.9" lengthAdjust="spacingAndGlyphs" stroke="#1a1a1a" stroke-width="0.2">6 d.p.i.</text>
<line x1="102.8" y1="892.1" x2="102.8" y2="1123.8" stroke="#1a1a1a" stroke-width="1.3"/>
<line x1="102.2" y1="1123.2" x2="768.6" y2="1123.2" stroke="#1a1a1a" stroke-width="1.3"/>
<line x1="95.5" y1="1123.2" x2="102.8" y2="1123.2" stroke="#1a1a1a" stroke-width="1.3"/>
<text x="94.0" y="1128.8" font-size="17.5" font-weight="bold" stroke="#1a1a1a" stroke-width="0.6" text-anchor="end">0.0</text>
<line x1="95.5" y1="1077.1" x2="102.8" y2="1077.1" stroke="#1a1a1a" stroke-width="1.3"/>
<text x="94.0" y="1082.7" font-size="17.5" font-weight="bold" stroke="#1a1a1a" stroke-width="0.6" text-anchor="end">0.5</text>
<line x1="95.5" y1="1031.0" x2="102.8" y2="1031.0" stroke="#1a1a1a" stroke-width="1.3"/>
<text x="94.0" y="1036.6" font-size="17.5" font-weight="bold" stroke="#1a1a1a" stroke-width="0.6" text-anchor="end">1.0</text>
<line x1="95.5" y1="984.9" x2="102.8" y2="984.9" stroke="#1a1a1a" stroke-width="1.3"/>
<text x="94.0" y="990.5" font-size="17.5" font-weight="bold" stroke="#1a1a1a" stroke-width="0.6" text-anchor="end">1.5</text>
<line x1="95.5" y1="938.8" x2="102.8" y2="938.8" stroke="#1a1a1a" stroke-width="1.3"/>
<text x="94.0" y="944.4" font-size="17.5" font-weight="bold" stroke="#1a1a1a" stroke-width="0.6" text-anchor="end">2.0</text>
<line x1="95.5" y1="892.7" x2="102.8" y2="892.7" stroke="#1a1a1a" stroke-width="1.3"/>
<text x="94.0" y="898.3" font-size="17.5" font-weight="bold" stroke="#1a1a1a" stroke-width="0.6" text-anchor="end">2.5</text>
<text x="59.8" y="1007.6" font-size="19" font-weight="bold" stroke="#1a1a1a" stroke-width="0.6" text-anchor="middle" transform="rotate(-90 59.8 1007.6)" textLength="166.5" lengthAdjust="spacingAndGlyphs">Related to GAPDH</text>
<line x1="124.7" y1="1123.2" x2="124.7" y2="1130.4" stroke="#1a1a1a" stroke-width="1.3"/>
<rect x="110.7" y="1017.7" width="11.6" height="105.5" fill="#3b55a8"/>
<line x1="116.5" y1="987.9" x2="116.5" y2="1018.2" stroke="#3b55a8" stroke-width="1.0"/>
<line x1="113.2" y1="987.9" x2="119.8" y2="987.9" stroke="#3b55a8" stroke-width="1.0"/>
<rect x="127.0" y="1045.3" width="11.6" height="77.9" fill="#e91c38"/>
<line x1="132.8" y1="1024.5" x2="132.8" y2="1045.8" stroke="#e91c38" stroke-width="1.0"/>
<line x1="129.5" y1="1024.5" x2="136.1" y2="1024.5" stroke="#e91c38" stroke-width="1.0"/>
<text x="129.7" y="1140.2" font-size="17.5" font-weight="bold" stroke="#1a1a1a" stroke-width="0.6" text-anchor="end" transform="rotate(-45 129.7 1140.2)">IL6</text>
<line x1="168.8" y1="1123.2" x2="168.8" y2="1130.4" stroke="#1a1a1a" stroke-width="1.3"/>
<rect x="154.8" y="1026.5" width="11.6" height="96.7" fill="#3b55a8"/>
<line x1="160.6" y1="1009.0" x2="160.6" y2="1027.0" stroke="#3b55a8" stroke-width="1.0"/>
<line x1="157.3" y1="1009.0" x2="163.9" y2="1009.0" stroke="#3b55a8" stroke-width="1.0"/>
<rect x="171.1" y="1067.1" width="11.6" height="56.1" fill="#e91c38"/>
<line x1="176.9" y1="1058.7" x2="176.9" y2="1067.6" stroke="#e91c38" stroke-width="1.0"/>
<line x1="173.6" y1="1058.7" x2="180.2" y2="1058.7" stroke="#e91c38" stroke-width="1.0"/>
<text x="173.8" y="1140.2" font-size="17.5" font-weight="bold" stroke="#1a1a1a" stroke-width="0.6" text-anchor="end" transform="rotate(-45 173.8 1140.2)">IL8</text>
<line x1="212.9" y1="1123.2" x2="212.9" y2="1130.4" stroke="#1a1a1a" stroke-width="1.3"/>
<rect x="198.9" y="1028.0" width="11.6" height="95.2" fill="#3b55a8"/>
<line x1="204.7" y1="1011.9" x2="204.7" y2="1028.5" stroke="#3b55a8" stroke-width="1.0"/>
<line x1="201.4" y1="1011.9" x2="208.0" y2="1011.9" stroke="#3b55a8" stroke-width="1.0"/>
<rect x="215.2" y="1086.9" width="11.6" height="36.3" fill="#e91c38"/>
<line x1="221.0" y1="1067.1" x2="221.0" y2="1087.4" stroke="#e91c38" stroke-width="1.0"/>
<line x1="217.7" y1="1067.1" x2="224.3" y2="1067.1" stroke="#e91c38" stroke-width="1.0"/>
<text x="217.9" y="1140.2" font-size="17.5" font-weight="bold" stroke="#1a1a1a" stroke-width="0.6" text-anchor="end" transform="rotate(-45 217.9 1140.2)">IL10</text>
<line x1="256.9" y1="1123.2" x2="256.9" y2="1130.4" stroke="#1a1a1a" stroke-width="1.3"/>
<rect x="242.9" y="1025.0" width="11.6" height="98.2" fill="#3b55a8"/>
<line x1="248.7" y1="1002.7" x2="248.7" y2="1025.5" stroke="#3b55a8" stroke-width="1.0"/>
<line x1="245.4" y1="1002.7" x2="252.0" y2="1002.7" stroke="#3b55a8" stroke-width="1.0"/>
<rect x="259.2" y="1084.7" width="11.6" height="38.5" fill="#e91c38"/>
<line x1="265.0" y1="1082.6" x2="265.0" y2="1085.2" stroke="#e91c38" stroke-width="1.0"/>
<line x1="261.7" y1="1082.6" x2="268.3" y2="1082.6" stroke="#e91c38" stroke-width="1.0"/>
<text x="261.9" y="1140.2" font-size="17.5" font-weight="bold" stroke="#1a1a1a" stroke-width="0.6" text-anchor="end" transform="rotate(-45 261.9 1140.2)">IL1b</text>
<line x1="301.0" y1="1123.2" x2="301.0" y2="1130.4" stroke="#1a1a1a" stroke-width="1.3"/>
<rect x="287.0" y="1019.8" width="11.6" height="103.4" fill="#3b55a8"/>
<line x1="292.8" y1="995.7" x2="292.8" y2="1020.3" stroke="#3b55a8" stroke-width="1.0"/>
<line x1="289.5" y1="995.7" x2="296.1" y2="995.7" stroke="#3b55a8" stroke-width="1.0"/>
<rect x="303.3" y="1087.3" width="11.6" height="35.9" fill="#e91c38"/>
<line x1="309.1" y1="1078.6" x2="309.1" y2="1087.8" stroke="#e91c38" stroke-width="1.0"/>
<line x1="305.8" y1="1078.6" x2="312.4" y2="1078.6" stroke="#e91c38" stroke-width="1.0"/>
<text x="306.0" y="1140.2" font-size="17.5" font-weight="bold" stroke="#1a1a1a" stroke-width="0.6" text-anchor="end" transform="rotate(-45 306.0 1140.2)">CCL2</text>
<line x1="345.1" y1="1123.2" x2="345.1" y2="1130.4" stroke="#1a1a1a" stroke-width="1.3"/>
<rect x="331.1" y="1019.8" width="11.6" height="103.4" fill="#3b55a8"/>
<line x1="336.9" y1="989.4" x2="336.9" y2="1020.3" stroke="#3b55a8" stroke-width="1.0"/>
<line x1="333.6" y1="989.4" x2="340.2" y2="989.4" stroke="#3b55a8" stroke-width="1.0"/>
<rect x="347.4" y="1038.7" width="11.6" height="84.5" fill="#e91c38"/>
<line x1="353.2" y1="1028.5" x2="353.2" y2="1039.2" stroke="#e91c38" stroke-width="1.0"/>
<line x1="349.9" y1="1028.5" x2="356.5" y2="1028.5" stroke="#e91c38" stroke-width="1.0"/>
<text x="350.1" y="1140.2" font-size="17.5" font-weight="bold" stroke="#1a1a1a" stroke-width="0.6" text-anchor="end" transform="rotate(-45 350.1 1140.2)">CCL3</text>
<line x1="389.2" y1="1123.2" x2="389.2" y2="1130.4" stroke="#1a1a1a" stroke-width="1.3"/>
<rect x="375.2" y="1006.7" width="11.6" height="116.5" fill="#3b55a8"/>
<line x1="381.0" y1="955.5" x2="381.0" y2="1007.2" stroke="#3b55a8" stroke-width="1.0"/>
<line x1="377.7" y1="955.5" x2="384.3" y2="955.5" stroke="#3b55a8" stroke-width="1.0"/>
<rect x="391.5" y="1031.3" width="11.6" height="91.9" fill="#e91c38"/>
<line x1="397.3" y1="997.9" x2="397.3" y2="1031.8" stroke="#e91c38" stroke-width="1.0"/>
<line x1="394.0" y1="997.9" x2="400.6" y2="997.9" stroke="#e91c38" stroke-width="1.0"/>
<text x="394.2" y="1140.2" font-size="17.5" font-weight="bold" stroke="#1a1a1a" stroke-width="0.6" text-anchor="end" transform="rotate(-45 394.2 1140.2)">CCL8</text>
<line x1="433.3" y1="1123.2" x2="433.3" y2="1130.4" stroke="#1a1a1a" stroke-width="1.3"/>
<rect x="419.3" y="1022.0" width="11.6" height="101.2" fill="#3b55a8"/>
<line x1="425.1" y1="993.4" x2="425.1" y2="1022.5" stroke="#3b55a8" stroke-width="1.0"/>
<line x1="421.8" y1="993.4" x2="428.4" y2="993.4" stroke="#3b55a8" stroke-width="1.0"/>
<rect x="435.6" y="1104.4" width="11.6" height="18.8" fill="#e91c38"/>
<line x1="441.4" y1="1086.3" x2="441.4" y2="1104.9" stroke="#e91c38" stroke-width="1.0"/>
<line x1="438.1" y1="1086.3" x2="444.7" y2="1086.3" stroke="#e91c38" stroke-width="1.0"/>
<text x="438.3" y="1140.2" font-size="17.5" font-weight="bold" stroke="#1a1a1a" stroke-width="0.6" text-anchor="end" transform="rotate(-45 438.3 1140.2)">CXCL1</text>
<line x1="477.3" y1="1123.2" x2="477.3" y2="1130.4" stroke="#1a1a1a" stroke-width="1.3"/>
<rect x="463.3" y="1030.3" width="11.6" height="92.9" fill="#3b55a8"/>
<line x1="469.1" y1="1027.8" x2="469.1" y2="1030.8" stroke="#3b55a8" stroke-width="1.0"/>
<line x1="465.8" y1="1027.8" x2="472.4" y2="1027.8" stroke="#3b55a8" stroke-width="1.0"/>
<rect x="479.6" y="1109.5" width="11.6" height="13.7" fill="#e91c38"/>
<line x1="485.4" y1="1105.7" x2="485.4" y2="1110.0" stroke="#e91c38" stroke-width="1.0"/>
<line x1="482.1" y1="1105.7" x2="488.7" y2="1105.7" stroke="#e91c38" stroke-width="1.0"/>
<text x="482.3" y="1140.2" font-size="17.5" font-weight="bold" stroke="#1a1a1a" stroke-width="0.6" text-anchor="end" transform="rotate(-45 482.3 1140.2)">CXCL2</text>
<line x1="521.4" y1="1123.2" x2="521.4" y2="1130.4" stroke="#1a1a1a" stroke-width="1.3"/>
<rect x="507.4" y="1035.0" width="11.6" height="88.2" fill="#3b55a8"/>
<line x1="513.2" y1="1012.2" x2="513.2" y2="1035.5" stroke="#3b55a8" stroke-width="1.0"/>
<line x1="509.9" y1="1012.2" x2="516.5" y2="1012.2" stroke="#3b55a8" stroke-width="1.0"/>
<rect x="523.7" y="1083.1" width="11.6" height="40.1" fill="#e91c38"/>
<line x1="529.5" y1="1066.9" x2="529.5" y2="1083.6" stroke="#e91c38" stroke-width="1.0"/>
<line x1="526.2" y1="1066.9" x2="532.8" y2="1066.9" stroke="#e91c38" stroke-width="1.0"/>
<text x="526.4" y="1140.2" font-size="17.5" font-weight="bold" stroke="#1a1a1a" stroke-width="0.6" text-anchor="end" transform="rotate(-45 526.4 1140.2)">CXCL9</text>
<line x1="565.5" y1="1123.2" x2="565.5" y2="1130.4" stroke="#1a1a1a" stroke-width="1.3"/>
<rect x="551.5" y="1020.8" width="11.6" height="102.4" fill="#3b55a8"/>
<line x1="557.3" y1="993.4" x2="557.3" y2="1021.3" stroke="#3b55a8" stroke-width="1.0"/>
<line x1="554.0" y1="993.4" x2="560.6" y2="993.4" stroke="#3b55a8" stroke-width="1.0"/>
<rect x="567.8" y="1061.3" width="11.6" height="61.9" fill="#e91c38"/>
<line x1="573.6" y1="1028.0" x2="573.6" y2="1061.8" stroke="#e91c38" stroke-width="1.0"/>
<line x1="570.3" y1="1028.0" x2="576.9" y2="1028.0" stroke="#e91c38" stroke-width="1.0"/>
<text x="570.5" y="1140.2" font-size="17.5" font-weight="bold" stroke="#1a1a1a" stroke-width="0.6" text-anchor="end" transform="rotate(-45 570.5 1140.2)">CXCL10</text>
<line x1="609.6" y1="1123.2" x2="609.6" y2="1130.4" stroke="#1a1a1a" stroke-width="1.3"/>
<rect x="595.6" y="1023.7" width="11.6" height="99.5" fill="#3b55a8"/>
<line x1="601.4" y1="1002.7" x2="601.4" y2="1024.2" stroke="#3b55a8" stroke-width="1.0"/>
<line x1="598.1" y1="1002.7" x2="604.7" y2="1002.7" stroke="#3b55a8" stroke-width="1.0"/>
<rect x="611.9" y="1083.8" width="11.6" height="39.4" fill="#e91c38"/>
<line x1="617.7" y1="1073.4" x2="617.7" y2="1084.3" stroke="#e91c38" stroke-width="1.0"/>
<line x1="614.4" y1="1073.4" x2="621.0" y2="1073.4" stroke="#e91c38" stroke-width="1.0"/>
<text x="614.6" y="1140.2" font-size="17.5" font-weight="bold" stroke="#1a1a1a" stroke-width="0.6" text-anchor="end" transform="rotate(-45 614.6 1140.2)">IFNγ</text>
<line x1="653.7" y1="1123.2" x2="653.7" y2="1130.4" stroke="#1a1a1a" stroke-width="1.3"/>
<rect x="639.7" y="1028.5" width="11.6" height="94.7" fill="#3b55a8"/>
<line x1="645.5" y1="1016.2" x2="645.5" y2="1029.0" stroke="#3b55a8" stroke-width="1.0"/>
<line x1="642.2" y1="1016.2" x2="648.8" y2="1016.2" stroke="#3b55a8" stroke-width="1.0"/>
<rect x="656.0" y="1093.9" width="11.6" height="29.3" fill="#e91c38"/>
<line x1="661.8" y1="1089.6" x2="661.8" y2="1094.4" stroke="#e91c38" stroke-width="1.0"/>
<line x1="658.5" y1="1089.6" x2="665.1" y2="1089.6" stroke="#e91c38" stroke-width="1.0"/>
<text x="658.7" y="1140.2" font-size="17.5" font-weight="bold" stroke="#1a1a1a" stroke-width="0.6" text-anchor="end" transform="rotate(-45 658.7 1140.2)">TNFα</text>
<line x1="697.7" y1="1123.2" x2="697.7" y2="1130.4" stroke="#1a1a1a" stroke-width="1.3"/>
<rect x="683.7" y="1026.5" width="11.6" height="96.7" fill="#3b55a8"/>
<line x1="689.5" y1="1007.5" x2="689.5" y2="1027.0" stroke="#3b55a8" stroke-width="1.0"/>
<line x1="686.2" y1="1007.5" x2="692.8" y2="1007.5" stroke="#3b55a8" stroke-width="1.0"/>
<rect x="700.0" y="1065.3" width="11.6" height="57.9" fill="#e91c38"/>
<line x1="705.8" y1="1051.8" x2="705.8" y2="1065.8" stroke="#e91c38" stroke-width="1.0"/>
<line x1="702.5" y1="1051.8" x2="709.1" y2="1051.8" stroke="#e91c38" stroke-width="1.0"/>
<text x="702.7" y="1140.2" font-size="17.5" font-weight="bold" stroke="#1a1a1a" stroke-width="0.6" text-anchor="end" transform="rotate(-45 702.7 1140.2)">IL17a</text>
<line x1="741.8" y1="1123.2" x2="741.8" y2="1130.4" stroke="#1a1a1a" stroke-width="1.3"/>
<rect x="727.8" y="1020.8" width="11.6" height="102.4" fill="#3b55a8"/>
<line x1="733.6" y1="995.7" x2="733.6" y2="1021.3" stroke="#3b55a8" stroke-width="1.0"/>
<line x1="730.3" y1="995.7" x2="736.9" y2="995.7" stroke="#3b55a8" stroke-width="1.0"/>
<rect x="744.1" y="1095.5" width="11.6" height="27.7" fill="#e91c38"/>
<line x1="749.9" y1="1091.4" x2="749.9" y2="1096.0" stroke="#e91c38" stroke-width="1.0"/>
<line x1="746.6" y1="1091.4" x2="753.2" y2="1091.4" stroke="#e91c38" stroke-width="1.0"/>
<text x="746.8" y="1140.2" font-size="17.5" font-weight="bold" stroke="#1a1a1a" stroke-width="0.6" text-anchor="end" transform="rotate(-45 746.8 1140.2)">CyPA</text>
<g fill="none" stroke="#222" stroke-width="1.05">
<circle cx="116.7" cy="1005.4" r="2.3"/>
<circle cx="116.7" cy="1049.0" r="2.3"/>
<circle cx="116.7" cy="1078.8" r="2.3"/>
<circle cx="133.3" cy="996.6" r="2.3"/>
<circle cx="133.3" cy="1026.4" r="2.3"/>
<circle cx="133.3" cy="1068.0" r="2.3"/>
<circle cx="133.3" cy="1092.1" r="2.3"/>
<circle cx="160.8" cy="974.3" r="2.3"/>
<circle cx="160.8" cy="1035.7" r="2.3"/>
<circle cx="160.8" cy="1043.5" r="2.3"/>
<circle cx="160.8" cy="1054.0" r="2.3"/>
<circle cx="177.4" cy="1049.2" r="2.3"/>
<circle cx="177.4" cy="1057.0" r="2.3"/>
<circle cx="177.4" cy="1075.3" r="2.3"/>
<circle cx="177.4" cy="1088.8" r="2.3"/>
<circle cx="204.9" cy="996.6" r="2.3"/>
<circle cx="204.9" cy="1038.2" r="2.3"/>
<circle cx="204.9" cy="1051.2" r="2.3"/>
<circle cx="221.5" cy="1037.7" r="2.3"/>
<circle cx="221.5" cy="1072.0" r="2.3"/>
<circle cx="225.0" cy="1116.9" r="2.3"/>
<circle cx="221.5" cy="1122.9" r="2.3"/>
<circle cx="245.5" cy="1043.5" r="2.3"/>
<circle cx="249.0" cy="1044.7" r="2.3"/>
<circle cx="249.0" cy="1054.2" r="2.3"/>
<circle cx="116.8" cy="939.1" r="2.3"/>
<circle cx="248.8" cy="958.2" r="2.3"/>
<circle cx="261.8" cy="1081.1" r="2.3"/>
<circle cx="268.8" cy="1080.6" r="2.3"/>
<circle cx="265.3" cy="1084.6" r="2.3"/>
<circle cx="265.3" cy="1094.3" r="2.3"/>
<circle cx="292.9" cy="969.5" r="2.3"/>
<circle cx="292.9" cy="998.1" r="2.3"/>
<circle cx="292.9" cy="1027.7" r="2.3"/>
<circle cx="292.9" cy="1084.6" r="2.3"/>
<circle cx="309.4" cy="1063.5" r="2.3"/>
<circle cx="305.9" cy="1086.8" r="2.3"/>
<circle cx="309.4" cy="1092.1" r="2.3"/>
<circle cx="309.4" cy="1107.1" r="2.3"/>
<circle cx="333.5" cy="1034.9" r="2.3"/>
<circle cx="337.0" cy="1040.5" r="2.3"/>
<circle cx="337.0" cy="1072.0" r="2.3"/>
<circle cx="353.6" cy="1011.4" r="2.3"/>
<circle cx="350.1" cy="1040.2" r="2.3"/>
<circle cx="353.6" cy="1044.7" r="2.3"/>
<circle cx="353.6" cy="1059.7" r="2.3"/>
<circle cx="381.1" cy="1040.5" r="2.3"/>
<circle cx="381.1" cy="1054.5" r="2.3"/>
<circle cx="381.1" cy="1076.8" r="2.3"/>
<circle cx="397.7" cy="1034.2" r="2.3"/>
<circle cx="397.7" cy="1049.5" r="2.3"/>
<circle cx="397.7" cy="1101.1" r="2.3"/>
<circle cx="421.5" cy="1039.9" r="2.3"/>
<circle cx="425.2" cy="1045.2" r="2.3"/>
<circle cx="425.2" cy="1064.5" r="2.3"/>
<circle cx="441.8" cy="1050.0" r="2.3"/>
<circle cx="438.3" cy="1123.2" r="2.3"/>
<circle cx="441.8" cy="1123.2" r="2.3"/>
<circle cx="445.3" cy="1123.2" r="2.3"/>
<circle cx="337.0" cy="931.7" r="2.3"/>
<circle cx="397.7" cy="940.7" r="2.3"/>
<circle cx="425.2" cy="939.0" r="2.3"/>
<circle cx="465.8" cy="1023.2" r="2.3"/>
<circle cx="472.9" cy="1021.7" r="2.3"/>
<circle cx="469.3" cy="1026.9" r="2.3"/>
<circle cx="469.3" cy="1049.0" r="2.3"/>
<circle cx="485.6" cy="1098.3" r="2.3"/>
<circle cx="482.1" cy="1111.4" r="2.3"/>
<circle cx="489.1" cy="1112.6" r="2.3"/>
<circle cx="485.6" cy="1115.1" r="2.3"/>
<circle cx="513.2" cy="992.8" r="2.3"/>
<circle cx="513.2" cy="1000.4" r="2.3"/>
<circle cx="513.2" cy="1059.0" r="2.3"/>
<circle cx="513.2" cy="1089.1" r="2.3"/>
<circle cx="529.7" cy="1047.7" r="2.3"/>
<circle cx="529.7" cy="1064.3" r="2.3"/>
<circle cx="529.7" cy="1102.4" r="2.3"/>
<circle cx="529.7" cy="1120.2" r="2.3"/>
<circle cx="557.3" cy="1009.1" r="2.3"/>
<circle cx="560.8" cy="1060.8" r="2.3"/>
<circle cx="557.3" cy="1066.5" r="2.3"/>
<circle cx="573.9" cy="963.0" r="2.3"/>
<circle cx="573.9" cy="1080.6" r="2.3"/>
<circle cx="573.9" cy="1092.8" r="2.3"/>
<circle cx="573.9" cy="1110.4" r="2.3"/>
<circle cx="601.4" cy="981.6" r="2.3"/>
<circle cx="601.4" cy="1001.1" r="2.3"/>
<circle cx="601.4" cy="1037.9" r="2.3"/>
<circle cx="601.4" cy="1075.3" r="2.3"/>
<circle cx="618.0" cy="1052.5" r="2.3"/>
<circle cx="618.0" cy="1085.3" r="2.3"/>
<circle cx="621.5" cy="1096.8" r="2.3"/>
<circle cx="618.0" cy="1102.4" r="2.3"/>
<circle cx="645.5" cy="1004.1" r="2.3"/>
<circle cx="642.0" cy="1021.9" r="2.3"/>
<circle cx="645.5" cy="1025.9" r="2.3"/>
<circle cx="645.5" cy="1063.5" r="2.3"/>
<circle cx="556.9" cy="948.0" r="2.3"/>
<circle cx="661.8" cy="1094.3" r="2.3"/>
<circle cx="665.3" cy="1097.3" r="2.3"/>
<circle cx="661.8" cy="1100.9" r="2.3"/>
<circle cx="689.4" cy="969.8" r="2.3"/>
<circle cx="685.9" cy="1041.7" r="2.3"/>
<circle cx="689.4" cy="1042.7" r="2.3"/>
<circle cx="689.4" cy="1053.0" r="2.3"/>
<circle cx="705.9" cy="1023.9" r="2.3"/>
<circle cx="705.9" cy="1075.0" r="2.3"/>
<circle cx="705.9" cy="1082.6" r="2.3"/>
<circle cx="709.4" cy="1081.8" r="2.3"/>
<circle cx="733.5" cy="964.8" r="2.3"/>
<circle cx="733.5" cy="991.3" r="2.3"/>
<circle cx="733.5" cy="1059.2" r="2.3"/>
<circle cx="733.5" cy="1069.8" r="2.3"/>
<circle cx="750.1" cy="1087.3" r="2.3"/>
<circle cx="746.5" cy="1091.6" r="2.3"/>
<circle cx="750.1" cy="1097.3" r="2.3"/>
<circle cx="750.1" cy="1105.6" r="2.3"/>
</g>
<rect x="687.1" y="850.8" width="25.6" height="13.0" fill="#3b55a8"/>
<rect x="687.1" y="877.6" width="25.6" height="13.3" fill="#e91c38"/>
<text x="727.2" y="863.8" font-size="18.3" stroke="#1a1a1a" stroke-width="0.2">IgG</text>
<text x="727.2" y="890.9" font-size="18.3" textLength="104.5" lengthAdjust="spacingAndGlyphs" stroke="#1a1a1a" stroke-width="0.2">Meplazumab</text>
<text x="296.4" y="957.4" font-size="25" font-weight="bold" stroke="#111" stroke-width="0.6" text-anchor="middle" font-family="'DejaVu Sans', sans-serif" fill="#111">*</text>
<line x1="291.3" y1="961.4" x2="301.5" y2="961.4" stroke="#111" stroke-width="3.8" stroke-linecap="round"/>
<text x="428.6" y="924.2" font-size="27" font-weight="bold" stroke="#111" stroke-width="0.6" text-anchor="middle" font-family="'DejaVu Sans', sans-serif" fill="#111">**</text>
<line x1="421.7" y1="926.4" x2="434.8" y2="926.4" stroke="#1a1a1a" stroke-width="1.1"/>
<text x="472.6" y="1000.4" font-size="25" font-weight="bold" stroke="#111" stroke-width="0.6" text-anchor="middle" font-family="'DejaVu Sans', sans-serif" fill="#111">*</text>
<line x1="467.5" y1="1004.0" x2="477.7" y2="1004.0" stroke="#111" stroke-width="3.8" stroke-linecap="round"/>
<text x="650.8" y="982.5" font-size="25" font-weight="bold" stroke="#111" stroke-width="0.6" text-anchor="middle" font-family="'DejaVu Sans', sans-serif" fill="#111">*</text>
<line x1="645.7" y1="985.5" x2="655.7" y2="985.5" stroke="#111" stroke-width="3.8" stroke-linecap="round"/>
<text x="737.0" y="953.2" font-size="25" font-weight="bold" stroke="#111" stroke-width="0.6" text-anchor="middle" font-family="'DejaVu Sans', sans-serif" fill="#111">*</text>
<line x1="732.2" y1="956.4" x2="742.1" y2="956.4" stroke="#111" stroke-width="3.8" stroke-linecap="round"/>
</svg>
</body></html>
